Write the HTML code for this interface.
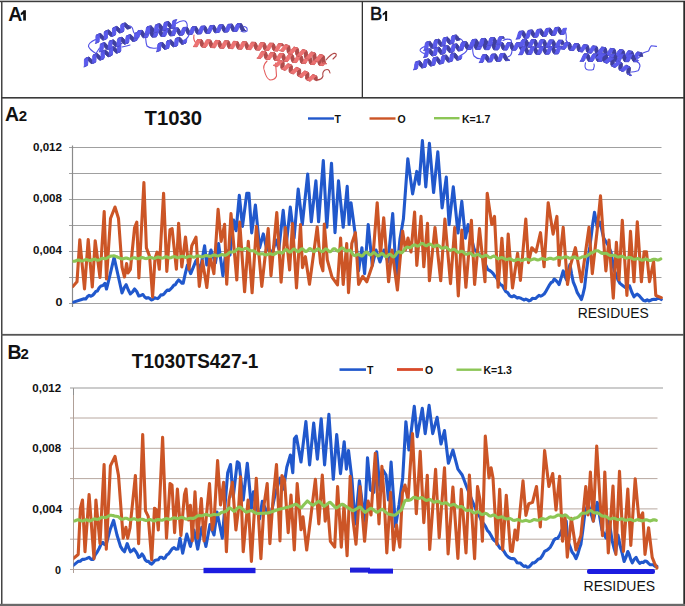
<!DOCTYPE html>
<html><head><meta charset="utf-8"><style>
html,body{margin:0;padding:0;background:#fff;width:685px;height:606px;overflow:hidden}
svg{display:block}
text{font-family:"Liberation Sans",sans-serif}
</style></head><body>
<svg width="685" height="606" viewBox="0 0 685 606">
<rect width="685" height="606" fill="#fff"/>
<g font-family="Liberation Sans, sans-serif">
<path d="M95.5 39.5 Q88 43 88.5 46.5 Q90 50 96 53.5 L99.5 48" stroke="#5050e6" stroke-width="1.1" fill="none" stroke-linecap="round" stroke-linejoin="round"/><path d="M128 25.5 Q132.5 26 133 30 Q133.5 34 137 34.5" stroke="#5050e6" stroke-width="1.1" fill="none" stroke-linecap="round" stroke-linejoin="round"/><path d="M122 47 Q127 46 130 45" stroke="#5050e6" stroke-width="1.1" fill="none" stroke-linecap="round" stroke-linejoin="round"/><path d="M146 31 Q145 40 147 46 Q150 49 156.6 48" stroke="#5050e6" stroke-width="1.1" fill="none" stroke-linecap="round" stroke-linejoin="round"/><path d="M176 23.5 Q181 20 185 21 Q188 23 187 28 Q187 31 189 32" stroke="#5050e6" stroke-width="1.1" fill="none" stroke-linecap="round" stroke-linejoin="round"/><path d="M185 40 Q188 38 189 35" stroke="#5050e6" stroke-width="1.1" fill="none" stroke-linecap="round" stroke-linejoin="round"/><path d="M244 26.5 Q248 27 247 31 Q244 33 241 31" stroke="#5050e6" stroke-width="1.1" fill="none" stroke-linecap="round" stroke-linejoin="round"/><path d="M85.0 58.6L85.7 58.6L89.0 57.2L88.3 57.2ZM85.7 58.6L86.6 59.2L90.0 57.8L89.0 57.2ZM86.6 59.2L87.8 60.3L91.1 58.9L90.0 57.8ZM87.8 60.3L89.0 61.5L92.3 60.1L91.1 58.9ZM89.0 61.5L90.2 62.7L93.5 61.3L92.3 60.1ZM90.2 62.7L91.2 63.4L94.5 62.1L93.5 61.3ZM91.2 63.4L92.0 63.7L95.3 62.3L94.5 62.1ZM93.2 55.1L93.8 55.0L97.2 53.6L96.5 53.7ZM93.8 55.0L94.7 55.6L98.1 54.2L97.2 53.6ZM94.7 55.6L95.9 56.6L99.2 55.2L98.1 54.2ZM95.9 56.6L97.1 57.8L100.4 56.4L99.2 55.2ZM97.1 57.8L98.3 59.0L101.6 57.6L100.4 56.4ZM98.3 59.0L99.3 59.8L102.6 58.5L101.6 57.6ZM99.3 59.8L100.1 60.2L103.4 58.8L102.6 58.5ZM101.4 51.7L102.0 51.5L105.3 50.1L104.7 50.3ZM102.0 51.5L102.9 51.9L106.2 50.5L105.3 50.1ZM102.9 51.9L103.9 52.9L107.2 51.5L106.2 50.5ZM103.9 52.9L105.1 54.1L108.4 52.7L107.2 51.5ZM105.1 54.1L106.3 55.3L109.6 53.9L108.4 52.7ZM106.3 55.3L107.4 56.2L110.7 54.8L109.6 53.9ZM107.4 56.2L108.3 56.7L111.6 55.3L110.7 54.8ZM108.3 56.7L108.9 56.5L112.2 55.1L111.6 55.3ZM110.2 48.0L111.0 48.3L114.3 46.9L113.5 46.6ZM111.0 48.3L112.0 49.2L115.3 47.8L114.3 46.9ZM112.0 49.2L113.2 50.3L116.5 48.9L115.3 47.8ZM113.2 50.3L114.4 51.6L117.7 50.2L116.5 48.9ZM114.4 51.6L115.5 52.6L118.8 51.2L117.7 50.2ZM115.5 52.6L116.4 53.1L119.8 51.7L118.8 51.2ZM116.4 53.1L117.1 53.1L120.4 51.7L119.8 51.7ZM118.3 44.5L119.1 44.7L122.4 43.3L121.6 43.1Z" fill="#40409e" stroke="#40409e" stroke-width="0.9"/>
<path d="M83.8 67.1L84.2 66.5L87.5 65.1L87.1 65.7ZM92.0 63.7L92.5 63.2L95.8 61.8L95.3 62.3ZM100.1 60.2L100.7 59.8L104.0 58.4L103.4 58.8ZM109.6 48.4L110.2 48.0L113.5 46.6L112.9 47.0ZM117.8 45.0L118.3 44.5L121.6 43.1L121.2 43.6Z" fill="#4f4fca" stroke="#4f4fca" stroke-width="0.9"/>
<path d="M84.6 59.2L85.0 58.6L88.3 57.2L87.9 57.8ZM92.8 55.9L93.2 55.1L96.5 53.7L96.1 54.5ZM100.7 59.8L101.0 58.9L104.3 57.5L104.0 58.4ZM101.1 52.6L101.4 51.7L104.7 50.3L104.4 51.2ZM108.9 56.5L109.2 55.6L112.5 54.2L112.2 55.1ZM109.3 49.4L109.6 48.4L112.9 47.0L112.7 48.0ZM117.1 53.1L117.5 52.3L120.8 50.9L120.4 51.7Z" fill="#5252d5" stroke="#5252d5" stroke-width="0.9"/>
<path d="M84.2 66.5L84.4 65.4L87.7 64.0L87.5 65.1ZM84.4 60.4L84.6 59.2L87.9 57.8L87.7 59.0ZM92.5 63.2L92.7 62.1L96.0 60.7L95.8 61.8ZM92.7 57.2L92.8 55.9L96.1 54.5L96.0 55.8ZM101.0 54.0L101.1 52.6L104.4 51.2L104.3 52.6ZM109.2 55.6L109.3 54.2L112.6 52.8L112.5 54.2ZM117.5 52.3L117.6 51.0L120.9 49.6L120.8 50.9ZM117.6 46.1L117.8 45.0L121.2 43.6L120.9 44.7Z" fill="#5656e1" stroke="#5656e1" stroke-width="0.9"/>
<path d="M84.4 65.4L84.4 63.8L87.8 62.4L87.7 64.0ZM84.4 63.8L84.4 62.0L87.7 60.6L87.8 62.4ZM84.4 62.0L84.4 60.4L87.7 59.0L87.7 60.6ZM92.7 62.1L92.7 60.6L96.1 59.2L96.0 60.7ZM92.7 60.6L92.7 58.9L96.0 57.5L96.1 59.2ZM92.7 58.9L92.7 57.2L96.0 55.8L96.0 57.5ZM101.0 58.9L101.0 57.4L104.4 56.0L104.3 57.5ZM101.0 57.4L101.0 55.7L104.3 54.3L104.4 56.0ZM101.0 55.7L101.0 54.0L104.3 52.6L104.3 54.3ZM109.3 54.2L109.3 52.5L112.6 51.1L112.6 52.8ZM109.3 52.5L109.3 50.8L112.6 49.4L112.6 51.1ZM109.3 50.8L109.3 49.4L112.7 48.0L112.6 49.4ZM117.6 51.0L117.6 49.4L120.9 48.0L120.9 49.6ZM117.6 49.4L117.6 47.6L120.9 46.2L120.9 48.0ZM117.6 47.6L117.6 46.1L120.9 44.7L120.9 46.2Z" fill="#5a5aec" stroke="#5a5aec" stroke-width="0.9"/><path d="M96.4 35.1L97.1 35.1L100.4 33.6L99.8 33.6ZM97.1 35.1L98.1 35.7L101.4 34.2L100.4 33.6ZM98.1 35.7L99.2 36.7L102.5 35.3L101.4 34.2ZM99.2 36.7L100.4 37.9L103.7 36.5L102.5 35.3ZM100.4 37.9L101.6 39.1L104.9 37.7L103.7 36.5ZM101.6 39.1L102.6 39.9L105.9 38.4L104.9 37.7ZM102.6 39.9L103.4 40.1L106.7 38.7L105.9 38.4ZM104.6 31.6L105.2 31.4L108.5 30.0L107.9 30.2ZM105.2 31.4L106.1 31.9L109.4 30.5L108.5 30.0ZM106.1 31.9L107.2 32.9L110.5 31.4L109.4 30.5ZM107.2 32.9L108.4 34.1L111.7 32.7L110.5 31.4ZM108.4 34.1L109.6 35.3L112.9 33.8L111.7 32.7ZM109.6 35.3L110.7 36.2L114.0 34.7L112.9 33.8ZM110.7 36.2L111.5 36.5L114.8 35.1L114.0 34.7ZM113.3 27.9L114.1 28.2L117.4 26.8L116.6 26.4ZM114.1 28.2L115.2 29.0L118.5 27.6L117.4 26.8ZM115.2 29.0L116.4 30.2L119.7 28.8L118.5 27.6ZM116.4 30.2L117.6 31.4L120.9 30.0L119.7 28.8ZM117.6 31.4L118.7 32.4L122.0 31.0L120.9 30.0ZM118.7 32.4L119.6 32.9L122.9 31.5L122.0 31.0ZM119.6 32.9L120.3 32.8L123.6 31.4L122.9 31.5ZM121.4 24.3L122.2 24.5L125.5 23.1L124.7 22.9ZM122.2 24.5L123.2 25.2L126.5 23.8L125.5 23.1ZM123.2 25.2L124.3 26.4L127.6 24.9L126.5 23.8ZM124.3 26.4L125.6 27.6L128.9 26.2L127.6 24.9ZM125.6 27.6L126.7 28.7L130.0 27.2L128.9 26.2ZM126.7 28.7L127.7 29.3L131.0 27.9L130.0 27.2Z" fill="#40409e" stroke="#40409e" stroke-width="0.9"/>
<path d="M95.3 43.6L95.8 43.0L99.1 41.6L98.6 42.2ZM103.4 40.1L103.9 39.7L107.2 38.2L106.7 38.7ZM111.5 36.5L112.1 36.3L115.4 34.8L114.8 35.1ZM112.7 28.2L113.3 27.9L116.6 26.4L116.1 26.8ZM120.9 24.8L121.4 24.3L124.7 22.9L124.2 23.4Z" fill="#4f4fca" stroke="#4f4fca" stroke-width="0.9"/>
<path d="M96.0 35.7L96.4 35.1L99.8 33.6L99.3 34.3ZM104.2 32.4L104.6 31.6L107.9 30.2L107.6 31.0ZM112.1 36.3L112.4 35.4L115.7 34.0L115.4 34.8ZM112.5 29.1L112.7 28.2L116.1 26.8L115.8 27.7ZM120.3 32.8L120.6 32.1L123.9 30.7L123.6 31.4Z" fill="#5252d5" stroke="#5252d5" stroke-width="0.9"/>
<path d="M95.8 43.0L95.9 41.9L99.2 40.4L99.1 41.6ZM95.9 36.9L96.0 35.7L99.3 34.3L99.2 35.5ZM103.9 39.7L104.2 38.6L107.5 37.2L107.2 38.2ZM104.1 33.8L104.2 32.4L107.6 31.0L107.4 32.3ZM120.6 32.1L120.8 30.8L124.1 29.4L123.9 30.7ZM120.7 25.9L120.9 24.8L124.2 23.4L124.0 24.5Z" fill="#5656e1" stroke="#5656e1" stroke-width="0.9"/>
<path d="M95.9 41.9L95.9 40.3L99.3 38.9L99.2 40.4ZM95.9 40.3L95.9 38.6L99.2 37.1L99.3 38.9ZM95.9 38.6L95.9 36.9L99.2 35.5L99.2 37.1ZM104.2 38.6L104.2 37.1L107.5 35.7L107.5 37.2ZM104.2 37.1L104.2 35.4L107.5 34.0L107.5 35.7ZM104.2 35.4L104.1 33.8L107.4 32.3L107.5 34.0ZM112.4 35.4L112.5 34.0L115.8 32.6L115.7 34.0ZM112.5 34.0L112.4 32.3L115.8 30.9L115.8 32.6ZM112.4 32.3L112.4 30.6L115.7 29.1L115.8 30.9ZM112.4 30.6L112.5 29.1L115.8 27.7L115.7 29.1ZM120.8 30.8L120.7 29.1L124.0 27.7L124.1 29.4ZM120.7 29.1L120.7 27.4L124.0 26.0L124.0 27.7ZM120.7 27.4L120.7 25.9L124.0 24.5L124.0 26.0Z" fill="#5a5aec" stroke="#5a5aec" stroke-width="0.9"/><path d="M100.9 43.7L101.6 43.8L105.0 42.7L104.4 42.6ZM101.6 43.8L102.5 44.5L105.9 43.4L105.0 42.7ZM102.5 44.5L103.5 45.6L106.9 44.6L105.9 43.4ZM103.5 45.6L104.6 47.0L108.0 45.9L106.9 44.6ZM104.6 47.0L105.6 48.3L109.1 47.2L108.0 45.9ZM105.6 48.3L106.6 49.1L110.0 48.1L109.1 47.2ZM106.6 49.1L107.3 49.4L110.8 48.4L110.0 48.1ZM109.4 41.1L110.0 41.0L113.5 40.0L112.8 40.1ZM110.0 41.0L110.9 41.6L114.3 40.6L113.5 40.0ZM110.9 41.6L111.9 42.7L115.3 41.6L114.3 40.6ZM111.9 42.7L112.9 44.0L116.4 43.0L115.3 41.6ZM112.9 44.0L114.0 45.3L117.4 44.3L116.4 43.0ZM114.0 45.3L115.0 46.3L118.4 45.3L117.4 44.3ZM115.0 46.3L115.8 46.8L119.2 45.7L118.4 45.3ZM118.5 38.3L119.3 38.8L122.7 37.7L121.9 37.3ZM119.3 38.8L120.2 39.8L123.7 38.7L122.7 37.7ZM120.2 39.8L121.3 41.1L124.7 40.0L123.7 38.7ZM121.3 41.1L122.4 42.4L125.8 41.3L124.7 40.0ZM122.4 42.4L123.4 43.5L126.8 42.4L125.8 41.3ZM123.4 43.5L124.2 44.1L127.7 43.0L126.8 42.4ZM124.2 44.1L124.9 44.0L128.3 42.9L127.7 43.0ZM126.9 35.7L127.7 36.0L131.1 34.9L130.4 34.6ZM127.7 36.0L128.6 36.8L132.0 35.8L131.1 34.9ZM128.6 36.8L129.6 38.1L133.1 37.0L132.0 35.8ZM129.6 38.1L130.7 39.5L134.2 38.4L133.1 37.0ZM130.7 39.5L131.8 40.6L135.2 39.6L134.2 38.4ZM131.8 40.6L132.6 41.3L136.1 40.3L135.2 39.6ZM132.6 41.3L133.3 41.4L136.8 40.4L136.1 40.3ZM135.4 33.1L136.1 33.2L139.5 32.1L138.8 32.0ZM136.1 33.2L137.0 33.9L140.4 32.9L139.5 32.1ZM137.0 33.9L138.0 35.1L141.4 34.1L140.4 32.9Z" fill="#40409e" stroke="#40409e" stroke-width="0.9"/>
<path d="M98.9 52.1L99.4 51.5L102.8 50.5L102.3 51.0ZM107.3 49.4L107.9 49.1L111.3 48.0L110.8 48.4ZM115.8 46.8L116.4 46.6L119.8 45.5L119.2 45.7ZM117.9 38.6L118.5 38.3L121.9 37.3L121.3 37.5ZM126.4 36.1L126.9 35.7L130.4 34.6L129.8 35.0ZM134.9 33.6L135.4 33.1L138.8 32.0L138.3 32.5Z" fill="#4f4fca" stroke="#4f4fca" stroke-width="0.9"/>
<path d="M100.4 44.3L100.9 43.7L104.4 42.6L103.9 43.2ZM109.0 41.9L109.4 41.1L112.8 40.1L112.4 40.8ZM116.4 46.6L116.8 45.7L120.2 44.6L119.8 45.5ZM117.5 39.5L117.9 38.6L121.3 37.5L120.9 38.4ZM124.9 44.0L125.3 43.3L128.7 42.2L128.3 42.9ZM133.3 41.4L133.8 40.8L137.2 39.8L136.8 40.4Z" fill="#5252d5" stroke="#5252d5" stroke-width="0.9"/>
<path d="M99.4 51.5L99.7 50.4L103.1 49.3L102.8 50.5ZM100.2 45.5L100.4 44.3L103.9 43.2L103.6 44.4ZM107.9 49.1L108.2 48.1L111.7 47.0L111.3 48.0ZM108.7 43.2L109.0 41.9L112.4 40.8L112.1 42.1ZM125.3 43.3L125.5 42.0L129.0 40.9L128.7 42.2ZM126.0 37.1L126.4 36.1L129.8 35.0L129.5 36.0ZM133.8 40.8L134.1 39.7L137.5 38.6L137.2 39.8ZM134.6 34.7L134.9 33.6L138.3 32.5L138.0 33.7Z" fill="#5656e1" stroke="#5656e1" stroke-width="0.9"/>
<path d="M99.7 50.4L99.9 48.8L103.3 47.8L103.1 49.3ZM99.9 48.8L100.0 47.1L103.4 46.0L103.3 47.8ZM100.0 47.1L100.2 45.5L103.6 44.4L103.4 46.0ZM108.2 48.1L108.4 46.6L111.9 45.5L111.7 47.0ZM108.4 46.6L108.6 44.8L112.0 43.8L111.9 45.5ZM108.6 44.8L108.7 43.2L112.1 42.1L112.0 43.8ZM116.8 45.7L117.0 44.3L120.4 43.2L120.2 44.6ZM117.0 44.3L117.1 42.6L120.6 41.5L120.4 43.2ZM117.1 42.6L117.3 40.9L120.7 39.8L120.6 41.5ZM117.3 40.9L117.5 39.5L120.9 38.4L120.7 39.8ZM125.5 42.0L125.7 40.3L129.1 39.3L129.0 40.9ZM125.7 40.3L125.8 38.6L129.3 37.5L129.1 39.3ZM125.8 38.6L126.0 37.1L129.5 36.0L129.3 37.5ZM134.1 39.7L134.3 38.1L137.7 37.0L137.5 38.6ZM134.3 38.1L134.4 36.3L137.8 35.3L137.7 37.0ZM134.4 36.3L134.6 34.7L138.0 33.7L137.8 35.3Z" fill="#5a5aec" stroke="#5a5aec" stroke-width="0.9"/><path d="M158.5 43.5L159.2 43.6L162.6 42.6L161.9 42.5ZM159.2 43.6L160.1 44.3L163.5 43.3L162.6 42.6ZM160.1 44.3L161.1 45.5L164.5 44.5L163.5 43.3ZM161.1 45.5L162.1 46.9L165.6 45.9L164.5 44.5ZM162.1 46.9L163.2 48.2L166.6 47.2L165.6 45.9ZM163.2 48.2L164.1 49.1L167.5 48.0L166.6 47.2ZM164.1 49.1L164.8 49.3L168.3 48.3L167.5 48.0ZM167.0 41.0L167.7 41.0L171.1 40.0L170.5 40.0ZM167.7 41.0L168.5 41.6L172.0 40.6L171.1 40.0ZM168.5 41.6L169.5 42.7L173.0 41.7L172.0 40.6ZM169.5 42.7L170.6 44.1L174.0 43.1L173.0 41.7ZM170.6 44.1L171.6 45.4L175.1 44.4L174.0 43.1ZM171.6 45.4L172.6 46.4L176.0 45.4L175.1 44.4ZM172.6 46.4L173.3 46.8L176.8 45.8L176.0 45.4ZM175.6 38.6L176.2 38.4L179.6 37.4L179.0 37.6ZM176.2 38.4L177.0 38.9L180.4 37.9L179.6 37.4ZM177.0 38.9L177.9 40.0L181.4 39.0L180.4 37.9ZM177.9 40.0L179.0 41.3L182.5 40.3L181.4 39.0ZM179.0 41.3L180.1 42.7L183.5 41.7L182.5 40.3ZM180.1 42.7L181.0 43.7L184.5 42.7L183.5 41.7ZM181.0 43.7L181.8 44.3L185.3 43.2L184.5 42.7ZM181.8 44.3L182.5 44.1L185.9 43.1L185.3 43.2Z" fill="#40409e" stroke="#40409e" stroke-width="0.9"/>
<path d="M156.3 51.9L156.8 51.3L160.3 50.3L159.8 50.8ZM164.8 49.3L165.4 49.0L168.8 47.9L168.3 48.3ZM173.3 46.8L173.9 46.6L177.4 45.5L176.8 45.8Z" fill="#4f4fca" stroke="#4f4fca" stroke-width="0.9"/>
<path d="M158.0 44.1L158.5 43.5L161.9 42.5L161.5 43.1ZM166.6 41.7L167.0 41.0L170.5 40.0L170.0 40.7ZM173.9 46.6L174.3 45.6L177.8 44.6L177.4 45.5ZM175.1 39.4L175.6 38.6L179.0 37.6L178.6 38.4ZM182.5 44.1L182.9 43.3L186.3 42.3L185.9 43.1Z" fill="#5252d5" stroke="#5252d5" stroke-width="0.9"/>
<path d="M156.8 51.3L157.1 50.2L160.6 49.2L160.3 50.3ZM157.7 45.3L158.0 44.1L161.5 43.1L161.1 44.3ZM165.4 49.0L165.7 47.9L169.2 46.9L168.8 47.9ZM166.3 43.0L166.6 41.7L170.0 40.7L169.7 42.0ZM174.9 40.8L175.1 39.4L178.6 38.4L178.3 39.8ZM182.9 43.3L183.2 42.0L186.6 41.0L186.3 42.3Z" fill="#5656e1" stroke="#5656e1" stroke-width="0.9"/>
<path d="M157.1 50.2L157.3 48.6L160.8 47.6L160.6 49.2ZM157.3 48.6L157.5 46.9L161.0 45.9L160.8 47.6ZM157.5 46.9L157.7 45.3L161.1 44.3L161.0 45.9ZM165.7 47.9L166.0 46.4L169.4 45.4L169.2 46.9ZM166.0 46.4L166.1 44.7L169.6 43.7L169.4 45.4ZM166.1 44.7L166.3 43.0L169.7 42.0L169.6 43.7ZM174.3 45.6L174.6 44.2L178.0 43.2L177.8 44.6ZM174.6 44.2L174.7 42.5L178.2 41.5L178.0 43.2ZM174.7 42.5L174.9 40.8L178.3 39.8L178.2 41.5ZM183.2 42.0L183.3 40.3L186.8 39.3L186.6 41.0Z" fill="#5a5aec" stroke="#5a5aec" stroke-width="0.9"/><path d="M138.3 30.6L139.0 30.8L142.5 30.6L141.9 30.4ZM139.0 30.8L139.6 31.6L143.2 31.4L142.5 30.6ZM139.6 31.6L140.4 32.9L144.0 32.7L143.2 31.4ZM140.4 32.9L141.1 34.5L144.7 34.2L144.0 32.7ZM141.1 34.5L141.8 36.0L145.4 35.7L144.7 34.2ZM141.8 36.0L142.5 37.1L146.1 36.9L145.4 35.7ZM142.5 37.1L143.2 37.7L146.8 37.4L146.1 36.9ZM147.7 30.0L148.4 30.6L151.9 30.4L151.3 29.8ZM148.4 30.6L149.1 31.8L152.7 31.5L151.9 30.4ZM149.1 31.8L149.8 33.3L153.4 33.0L152.7 31.5ZM149.8 33.3L150.5 34.8L154.1 34.6L153.4 33.0ZM150.5 34.8L151.2 36.1L154.8 35.9L154.1 34.6ZM151.2 36.1L151.9 36.9L155.5 36.6L154.8 35.9ZM151.9 36.9L152.6 37.0L156.2 36.8L155.5 36.6ZM156.4 29.4L157.1 29.7L160.7 29.5L160.0 29.1ZM157.1 29.7L157.8 30.7L161.4 30.4L160.7 29.5ZM157.8 30.7L158.5 32.1L162.1 31.8L161.4 30.4ZM158.5 32.1L159.2 33.6L162.8 33.4L162.1 31.8ZM159.2 33.6L160.0 35.0L163.5 34.8L162.8 33.4ZM160.0 35.0L160.6 36.0L164.2 35.8L163.5 34.8ZM160.6 36.0L161.3 36.4L164.9 36.2L164.2 35.8ZM165.2 28.8L165.8 28.9L169.4 28.6L168.8 28.6ZM165.8 28.9L166.5 29.6L170.1 29.4L169.4 28.6ZM166.5 29.6L167.2 30.9L170.8 30.6L170.1 29.4ZM167.2 30.9L167.9 32.4L171.5 32.1L170.8 30.6ZM167.9 32.4L168.7 33.9L172.2 33.7L171.5 32.1ZM168.7 33.9L169.4 35.1L173.0 34.8L172.2 33.7ZM169.4 35.1L170.0 35.7L173.6 35.5L173.0 34.8ZM170.0 35.7L170.7 35.7L174.3 35.5L173.6 35.5ZM174.5 28.1L175.2 28.6L178.8 28.4L178.1 27.9ZM175.2 28.6L175.9 29.7L179.5 29.5L178.8 28.4ZM175.9 29.7L176.6 31.2L180.2 30.9L179.5 29.5ZM176.6 31.2L177.4 32.7L180.9 32.5L180.2 30.9ZM177.4 32.7L178.1 34.1L181.7 33.8L180.9 32.5ZM178.1 34.1L178.8 34.9L182.4 34.7L181.7 33.8ZM178.8 34.9L179.4 35.2L183.0 34.9L182.4 34.7ZM183.3 27.5L183.9 27.7L187.5 27.5L186.9 27.3ZM183.9 27.7L184.6 28.6L188.2 28.4L187.5 27.5ZM184.6 28.6L185.3 30.0L188.9 29.7L188.2 28.4ZM185.3 30.0L186.1 31.5L189.6 31.3L188.9 29.7ZM186.1 31.5L186.8 33.0L190.4 32.7L189.6 31.3ZM186.8 33.0L187.5 34.1L191.1 33.8L190.4 32.7ZM187.5 34.1L188.1 34.6L191.7 34.3L191.1 33.8ZM192.0 27.0L192.6 27.0L196.2 26.7L195.6 26.7ZM192.6 27.0L193.3 27.6L196.9 27.3L196.2 26.7ZM193.3 27.6L194.0 28.8L197.6 28.5L196.9 27.3ZM194.0 28.8L194.8 30.3L198.3 30.0L197.6 28.5ZM194.8 30.3L195.5 31.8L199.1 31.6L198.3 30.0ZM195.5 31.8L196.2 33.1L199.8 32.8L199.1 31.6ZM196.2 33.1L196.9 33.8L200.5 33.6L199.8 32.8ZM196.9 33.8L197.5 33.9L201.1 33.7L200.5 33.6ZM201.4 26.3L202.0 26.7L205.6 26.4L205.0 26.0ZM202.0 26.7L202.7 27.7L206.3 27.4L205.6 26.4ZM202.7 27.7L203.4 29.1L207.0 28.8L206.3 27.4ZM203.4 29.1L204.2 30.6L207.8 30.4L207.0 28.8ZM204.2 30.6L204.9 32.0L208.5 31.8L207.8 30.4ZM204.9 32.0L205.6 33.0L209.2 32.7L208.5 31.8ZM205.6 33.0L206.3 33.3L209.8 33.1L209.2 32.7ZM210.1 25.7L210.7 25.8L214.3 25.5L213.7 25.4ZM210.7 25.8L211.4 26.6L215.0 26.3L214.3 25.5ZM211.4 26.6L212.1 27.9L215.7 27.6L215.0 26.3ZM212.1 27.9L212.9 29.4L216.5 29.2L215.7 27.6ZM212.9 29.4L213.6 30.9L217.2 30.7L216.5 29.2ZM213.6 30.9L214.3 32.1L217.9 31.8L217.2 30.7ZM214.3 32.1L215.0 32.7L218.6 32.4L217.9 31.8ZM219.5 25.0L220.1 25.6L223.7 25.3L223.1 24.8ZM220.1 25.6L220.8 26.7L224.4 26.5L223.7 25.3ZM220.8 26.7L221.6 28.2L225.2 27.9L224.4 26.5ZM221.6 28.2L222.3 29.7L225.9 29.5L225.2 27.9ZM222.3 29.7L223.0 31.1L226.6 30.8L225.9 29.5ZM223.0 31.1L223.7 31.9L227.3 31.6L226.6 30.8ZM223.7 31.9L224.4 32.1L227.9 31.8L227.3 31.6ZM228.2 24.4L228.9 24.7L232.5 24.4L231.8 24.1ZM228.9 24.7L229.6 25.6L233.1 25.4L232.5 24.4ZM229.6 25.6L230.3 27.0L233.9 26.7L233.1 25.4ZM230.3 27.0L231.0 28.5L234.6 28.3L233.9 26.7ZM231.0 28.5L231.7 30.0L235.3 29.7L234.6 28.3ZM231.7 30.0L232.4 31.0L236.0 30.8L235.3 29.7ZM232.4 31.0L233.1 31.5L236.7 31.2L236.0 30.8ZM237.0 23.8L237.6 23.9L241.2 23.6L240.5 23.6ZM237.6 23.9L238.3 24.6L241.9 24.3L241.2 23.6ZM238.3 24.6L239.0 25.8L242.6 25.5L241.9 24.3ZM239.0 25.8L239.7 27.3L243.3 27.1L242.6 25.5ZM239.7 27.3L240.4 28.8L244.0 28.6L243.3 27.1ZM240.4 28.8L241.2 30.1L244.7 29.8L244.0 28.6ZM241.2 30.1L241.8 30.7L245.4 30.5L244.7 29.8ZM241.8 30.7L242.5 30.8L246.0 30.5L245.4 30.5Z" fill="#40409e" stroke="#40409e" stroke-width="0.9"/>
<path d="M134.5 38.3L135.1 37.9L138.7 37.7L138.1 38.1ZM143.2 37.7L143.8 37.5L147.4 37.3L146.8 37.4ZM147.1 30.1L147.7 30.0L151.3 29.8L150.7 29.9ZM155.8 29.7L156.4 29.4L160.0 29.1L159.4 29.5ZM161.3 36.4L161.9 36.2L165.5 35.9L164.9 36.2ZM173.9 28.3L174.5 28.1L178.1 27.9L177.5 28.1ZM179.4 35.2L180.0 34.7L183.6 34.5L183.0 34.9ZM188.1 34.6L188.8 34.4L192.4 34.1L191.7 34.3ZM200.8 26.6L201.4 26.3L205.0 26.0L204.4 26.3ZM206.3 33.3L206.9 33.0L210.4 32.7L209.8 33.1ZM215.0 32.7L215.6 32.6L219.2 32.3L218.6 32.4ZM218.9 25.2L219.5 25.0L223.1 24.8L222.5 24.9ZM227.6 24.8L228.2 24.4L231.8 24.1L231.2 24.5ZM233.1 31.5L233.7 31.2L237.3 31.0L236.7 31.2Z" fill="#4f4fca" stroke="#4f4fca" stroke-width="0.9"/>
<path d="M137.7 31.2L138.3 30.6L141.9 30.4L141.3 30.9ZM143.8 37.5L144.4 36.7L148.0 36.5L147.4 37.3ZM146.5 30.9L147.1 30.1L150.7 29.9L150.1 30.7ZM152.6 37.0L153.2 36.5L156.7 36.2L156.2 36.8ZM164.6 29.4L165.2 28.8L168.8 28.6L168.2 29.2ZM170.7 35.7L171.2 35.0L174.8 34.8L174.3 35.5ZM173.3 29.2L173.9 28.3L177.5 28.1L176.9 28.9ZM182.7 28.0L183.3 27.5L186.9 27.3L186.3 27.7ZM188.8 34.4L189.3 33.5L192.9 33.3L192.4 34.1ZM191.4 27.7L192.0 27.0L195.6 26.7L195.0 27.4ZM197.5 33.9L198.1 33.3L201.7 33.0L201.1 33.7ZM209.5 26.2L210.1 25.7L213.7 25.4L213.1 26.0ZM215.6 32.6L216.2 31.8L219.8 31.6L219.2 32.3ZM218.3 26.0L218.9 25.2L222.5 24.9L221.9 25.7ZM224.4 32.1L224.9 31.6L228.5 31.3L227.9 31.8ZM236.4 24.5L237.0 23.8L240.5 23.6L240.0 24.2Z" fill="#5252d5" stroke="#5252d5" stroke-width="0.9"/>
<path d="M135.1 37.9L135.6 36.9L139.2 36.7L138.7 37.7ZM137.2 32.3L137.7 31.2L141.3 30.9L140.8 32.0ZM153.2 36.5L153.7 35.3L157.3 35.1L156.7 36.2ZM155.3 30.7L155.8 29.7L159.4 29.5L158.9 30.5ZM161.9 36.2L162.5 35.2L166.1 35.0L165.5 35.9ZM164.0 30.6L164.6 29.4L168.2 29.2L167.6 30.4ZM171.2 35.0L171.8 33.8L175.4 33.5L174.8 34.8ZM180.0 34.7L180.6 33.7L184.1 33.4L183.6 34.5ZM182.1 29.0L182.7 28.0L186.3 27.7L185.7 28.8ZM190.9 29.0L191.4 27.7L195.0 27.4L194.5 28.7ZM198.1 33.3L198.6 32.1L202.2 31.9L201.7 33.0ZM200.2 27.5L200.8 26.6L204.4 26.3L203.8 27.2ZM206.9 33.0L207.4 32.0L211.0 31.7L210.4 32.7ZM209.0 27.4L209.5 26.2L213.1 26.0L212.6 27.1ZM224.9 31.6L225.5 30.4L229.1 30.2L228.5 31.3ZM227.1 25.8L227.6 24.8L231.2 24.5L230.6 25.6ZM233.7 31.2L234.3 30.3L237.9 30.0L237.3 31.0ZM235.8 25.7L236.4 24.5L240.0 24.2L239.4 25.5Z" fill="#5656e1" stroke="#5656e1" stroke-width="0.9"/>
<path d="M135.6 36.9L136.1 35.4L139.7 35.2L139.2 36.7ZM136.1 35.4L136.7 33.8L140.2 33.6L139.7 35.2ZM136.7 33.8L137.2 32.3L140.8 32.0L140.2 33.6ZM144.4 36.7L144.9 35.4L148.5 35.2L148.0 36.5ZM144.9 35.4L145.4 33.8L149.0 33.6L148.5 35.2ZM145.4 33.8L146.0 32.2L149.5 32.0L149.0 33.6ZM146.0 32.2L146.5 30.9L150.1 30.7L149.5 32.0ZM153.7 35.3L154.2 33.8L157.8 33.6L157.3 35.1ZM154.2 33.8L154.7 32.2L158.3 31.9L157.8 33.6ZM154.7 32.2L155.3 30.7L158.9 30.5L158.3 31.9ZM162.5 35.2L163.0 33.8L166.6 33.6L166.1 35.0ZM163.0 33.8L163.5 32.2L167.1 31.9L166.6 33.6ZM163.5 32.2L164.0 30.6L167.6 30.4L167.1 31.9ZM171.8 33.8L172.3 32.2L175.9 31.9L175.4 33.5ZM172.3 32.2L172.8 30.6L176.4 30.3L175.9 31.9ZM172.8 30.6L173.3 29.2L176.9 28.9L176.4 30.3ZM180.6 33.7L181.1 32.2L184.7 31.9L184.1 33.4ZM181.1 32.2L181.6 30.5L185.2 30.3L184.7 31.9ZM181.6 30.5L182.1 29.0L185.7 28.8L185.2 30.3ZM189.3 33.5L189.9 32.2L193.5 31.9L192.9 33.3ZM189.9 32.2L190.4 30.5L194.0 30.3L193.5 31.9ZM190.4 30.5L190.9 29.0L194.5 28.7L194.0 30.3ZM198.6 32.1L199.2 30.5L202.8 30.3L202.2 31.9ZM199.2 30.5L199.7 28.9L203.3 28.7L202.8 30.3ZM199.7 28.9L200.2 27.5L203.8 27.2L203.3 28.7ZM207.4 32.0L207.9 30.5L211.5 30.3L211.0 31.7ZM207.9 30.5L208.5 28.9L212.0 28.7L211.5 30.3ZM208.5 28.9L209.0 27.4L212.6 27.1L212.0 28.7ZM216.2 31.8L216.7 30.5L220.3 30.3L219.8 31.6ZM216.7 30.5L217.2 28.9L220.8 28.7L220.3 30.3ZM217.2 28.9L217.8 27.3L221.3 27.1L220.8 28.7ZM217.8 27.3L218.3 26.0L221.9 25.7L221.3 27.1ZM225.5 30.4L226.0 28.9L229.6 28.7L229.1 30.2ZM226.0 28.9L226.5 27.3L230.1 27.0L229.6 28.7ZM226.5 27.3L227.1 25.8L230.6 25.6L230.1 27.0ZM234.3 30.3L234.8 28.9L238.4 28.7L237.9 30.0ZM234.8 28.9L235.3 27.3L238.9 27.0L238.4 28.7ZM235.3 27.3L235.8 25.7L239.4 25.5L238.9 27.0Z" fill="#5a5aec" stroke="#5a5aec" stroke-width="0.9"/><path d="M147.1 26.8L147.8 26.9L151.3 26.0L150.6 25.9ZM147.8 26.9L148.6 27.6L152.1 26.7L151.3 26.0ZM148.6 27.6L149.6 28.8L153.1 27.9L152.1 26.7ZM149.6 28.8L150.6 30.2L154.1 29.3L153.1 27.9ZM150.6 30.2L151.5 31.5L155.0 30.6L154.1 29.3ZM151.5 31.5L152.4 32.5L155.9 31.6L155.0 30.6ZM152.4 32.5L153.2 32.9L156.7 32.0L155.9 31.6ZM155.7 24.8L156.3 24.6L159.8 23.8L159.2 23.9ZM156.3 24.6L157.1 25.1L160.6 24.3L159.8 23.8ZM157.1 25.1L158.0 26.2L161.5 25.3L160.6 24.3ZM158.0 26.2L159.0 27.6L162.5 26.7L161.5 25.3ZM159.0 27.6L160.0 29.0L163.5 28.1L162.5 26.7ZM160.0 29.0L160.9 30.1L164.4 29.2L163.5 28.1ZM160.9 30.1L161.7 30.7L165.2 29.8L164.4 29.2ZM161.7 30.7L162.3 30.6L165.8 29.8L165.2 29.8ZM164.8 22.4L165.6 22.8L169.1 21.9L168.3 21.6ZM165.6 22.8L166.4 23.7L169.9 22.8L169.1 21.9ZM166.4 23.7L167.4 25.0L170.9 24.1L169.9 22.8ZM167.4 25.0L168.4 26.4L171.9 25.5L170.9 24.1ZM168.4 26.4L169.3 27.6L172.8 26.7L171.9 25.5ZM169.3 27.6L170.2 28.4L173.7 27.5L172.8 26.7ZM170.2 28.4L170.9 28.6L174.4 27.7L173.7 27.5Z" fill="#40409e" stroke="#40409e" stroke-width="0.9"/>
<path d="M144.6 35.0L145.2 34.5L148.7 33.7L148.1 34.2ZM153.2 32.9L153.7 32.6L157.2 31.8L156.7 32.0ZM164.3 22.8L164.8 22.4L168.3 21.6L167.8 22.0ZM170.9 28.6L171.4 28.1L174.9 27.2L174.4 27.7Z" fill="#4f4fca" stroke="#4f4fca" stroke-width="0.9"/>
<path d="M146.6 27.4L147.1 26.8L150.6 25.9L150.1 26.5ZM153.7 32.6L154.2 31.7L157.7 30.8L157.2 31.8ZM155.3 25.6L155.7 24.8L159.2 23.9L158.7 24.7ZM162.3 30.6L162.8 29.9L166.3 29.1L165.8 29.8ZM172.9 20.9L173.4 20.3L176.9 19.5L176.4 20.1Z" fill="#5252d5" stroke="#5252d5" stroke-width="0.9"/>
<path d="M145.2 34.5L145.5 33.4L149.0 32.6L148.7 33.7ZM146.3 28.6L146.6 27.4L150.1 26.5L149.8 27.7ZM154.9 26.9L155.3 25.6L158.7 24.7L158.4 26.1ZM162.8 29.9L163.1 28.6L166.6 27.8L166.3 29.1ZM163.9 23.8L164.3 22.8L167.8 22.0L167.4 23.0ZM171.4 28.1L171.8 27.0L175.3 26.1L174.9 27.2ZM172.5 22.1L172.9 20.9L176.4 20.1L176.0 21.3Z" fill="#5656e1" stroke="#5656e1" stroke-width="0.9"/>
<path d="M145.5 33.4L145.8 31.9L149.3 31.0L149.0 32.6ZM145.8 31.9L146.0 30.2L149.5 29.3L149.3 31.0ZM146.0 30.2L146.3 28.6L149.8 27.7L149.5 29.3ZM154.2 31.7L154.5 30.3L158.0 29.4L157.7 30.8ZM154.5 30.3L154.7 28.6L158.2 27.7L158.0 29.4ZM154.7 28.6L154.9 26.9L158.4 26.1L158.2 27.7ZM163.1 28.6L163.4 27.0L166.9 26.1L166.6 27.8ZM163.4 27.0L163.6 25.3L167.1 24.4L166.9 26.1ZM163.6 25.3L163.9 23.8L167.4 23.0L167.1 24.4ZM171.8 27.0L172.0 25.4L175.5 24.5L175.3 26.1ZM172.0 25.4L172.3 23.7L175.7 22.8L175.5 24.5ZM172.3 23.7L172.5 22.1L176.0 21.3L175.7 22.8Z" fill="#5a5aec" stroke="#5a5aec" stroke-width="0.9"/><path d="M196 43 Q193 40 194 35" stroke="#e45a5a" stroke-width="1.1" fill="none" stroke-linecap="round" stroke-linejoin="round"/><path d="M267 61 Q262 66 264.5 71 Q266 78 270 80 Q275 80 276.5 76 Q276 68 275.5 63" stroke="#e45a5a" stroke-width="1.1" fill="none" stroke-linecap="round" stroke-linejoin="round"/><path d="M326 60 Q331 54 334 53.4 Q337 53 336 56 L333 59" stroke="#b04848" stroke-width="1.1" fill="none" stroke-linecap="round" stroke-linejoin="round"/><path d="M316 80 Q322 80 323 76 Q322 72 325 70 Q329 68 330 73" stroke="#b04848" stroke-width="1.1" fill="none" stroke-linecap="round" stroke-linejoin="round"/><path d="M197.8 39.5L198.4 39.7L202.0 39.9L201.4 39.6ZM198.4 39.7L199.0 40.6L202.6 40.8L202.0 39.9ZM199.0 40.6L199.5 42.0L203.1 42.2L202.6 40.8ZM199.5 42.0L200.1 43.6L203.7 43.8L203.1 42.2ZM200.1 43.6L200.6 45.2L204.2 45.4L203.7 43.8ZM200.6 45.2L201.2 46.4L204.8 46.6L204.2 45.4ZM201.2 46.4L201.8 47.0L205.4 47.2L204.8 46.6ZM207.2 40.0L207.8 40.7L211.3 40.9L210.8 40.2ZM207.8 40.7L208.3 41.9L211.9 42.1L211.3 40.9ZM208.3 41.9L208.9 43.5L212.5 43.7L211.9 42.1ZM208.9 43.5L209.4 45.1L213.0 45.3L212.5 43.7ZM209.4 45.1L210.0 46.5L213.6 46.7L213.0 45.3ZM210.0 46.5L210.5 47.3L214.1 47.5L213.6 46.7ZM210.5 47.3L211.2 47.5L214.8 47.7L214.1 47.5ZM215.9 40.4L216.5 40.8L220.1 41.0L219.5 40.6ZM216.5 40.8L217.1 41.9L220.7 42.1L220.1 41.0ZM217.1 41.9L217.7 43.4L221.2 43.6L220.7 42.1ZM217.7 43.4L218.2 45.0L221.8 45.2L221.2 43.6ZM218.2 45.0L218.7 46.5L222.3 46.7L221.8 45.2ZM218.7 46.5L219.3 47.6L222.9 47.7L222.3 46.7ZM219.3 47.6L219.9 48.0L223.5 48.2L222.9 47.7ZM224.7 40.9L225.3 41.1L228.9 41.2L228.3 41.0ZM225.3 41.1L225.9 41.9L229.5 42.1L228.9 41.2ZM225.9 41.9L226.4 43.3L230.0 43.5L229.5 42.1ZM226.4 43.3L227.0 44.9L230.6 45.1L230.0 43.5ZM227.0 44.9L227.5 46.5L231.1 46.7L230.6 45.1ZM227.5 46.5L228.1 47.7L231.7 47.9L231.1 46.7ZM228.1 47.7L228.7 48.4L232.3 48.6L231.7 47.9ZM234.1 41.4L234.7 42.0L238.3 42.2L237.7 41.6ZM234.7 42.0L235.2 43.2L238.8 43.4L238.3 42.2ZM235.2 43.2L235.8 44.8L239.4 45.0L238.8 43.4ZM235.8 44.8L236.3 46.4L239.9 46.6L239.4 45.0ZM236.3 46.4L236.9 47.8L240.5 48.0L239.9 46.6ZM236.9 47.8L237.5 48.7L241.1 48.9L240.5 48.0ZM237.5 48.7L238.1 48.9L241.7 49.1L241.1 48.9ZM242.8 41.8L243.4 42.2L247.0 42.3L246.4 42.0ZM243.4 42.2L244.0 43.2L247.6 43.4L247.0 42.3ZM244.0 43.2L244.6 44.6L248.2 44.8L247.6 43.4ZM244.6 44.6L245.1 46.3L248.7 46.5L248.2 44.8ZM245.1 46.3L245.7 47.8L249.3 48.0L248.7 46.5ZM245.7 47.8L246.2 48.9L249.8 49.1L249.3 48.0ZM246.2 48.9L246.8 49.4L250.4 49.6L249.8 49.1ZM251.6 42.3L252.2 42.4L255.8 42.6L255.2 42.4ZM252.2 42.4L252.8 43.2L256.4 43.4L255.8 42.6ZM252.8 43.2L253.4 44.6L257.0 44.7L256.4 43.4ZM253.4 44.6L253.9 46.2L257.5 46.3L257.0 44.7ZM253.9 46.2L254.5 47.7L258.0 47.9L257.5 46.3ZM254.5 47.7L255.0 49.0L258.6 49.2L258.0 47.9ZM255.0 49.0L255.6 49.7L259.2 49.9L258.6 49.2ZM255.6 49.7L256.2 49.8L259.8 50.0L259.2 49.9ZM261.0 42.7L261.6 43.3L265.2 43.5L264.6 42.9ZM261.6 43.3L262.2 44.5L265.7 44.7L265.2 43.5ZM262.2 44.5L262.7 46.0L266.3 46.2L265.7 44.7ZM262.7 46.0L263.2 47.7L266.8 47.8L266.3 46.2ZM263.2 47.7L263.8 49.1L267.4 49.3L266.8 47.8ZM263.8 49.1L264.4 50.0L268.0 50.2L267.4 49.3ZM264.4 50.0L265.0 50.3L268.6 50.5L268.0 50.2ZM269.8 43.2L270.4 43.5L274.0 43.7L273.3 43.3ZM270.4 43.5L270.9 44.5L274.5 44.7L274.0 43.7ZM270.9 44.5L271.5 45.9L275.1 46.1L274.5 44.7ZM271.5 45.9L272.0 47.5L275.6 47.7L275.1 46.1ZM272.0 47.5L272.6 49.1L276.2 49.3L275.6 47.7ZM272.6 49.1L273.2 50.2L276.7 50.4L276.2 49.3ZM273.2 50.2L273.8 50.8L277.3 50.9L276.7 50.4ZM278.5 43.7L279.1 43.8L282.7 44.0L282.1 43.9ZM279.1 43.8L279.7 44.5L283.3 44.7L282.7 44.0ZM279.7 44.5L280.3 45.8L283.9 46.0L283.3 44.7Z" fill="#b04c4c" stroke="#b04c4c" stroke-width="0.9"/>
<path d="M193.0 46.6L193.7 46.3L197.3 46.5L196.6 46.8ZM201.8 47.0L202.4 46.9L206.0 47.1L205.4 47.2ZM206.5 40.0L207.2 40.0L210.8 40.2L210.1 40.2ZM215.3 40.6L215.9 40.4L219.5 40.6L218.9 40.8ZM219.9 48.0L220.6 47.7L224.2 47.9L223.5 48.2ZM228.7 48.4L229.3 48.4L232.9 48.6L232.3 48.6ZM233.4 41.4L234.1 41.4L237.7 41.6L237.0 41.6ZM242.2 42.1L242.8 41.8L246.4 42.0L245.8 42.3ZM246.8 49.4L247.5 49.2L251.1 49.4L250.4 49.6ZM260.4 42.8L261.0 42.7L264.6 42.9L264.0 43.0ZM269.1 43.5L269.8 43.2L273.3 43.3L272.7 43.7ZM273.8 50.8L274.4 50.6L278.0 50.8L277.3 50.9Z" fill="#d26262" stroke="#d26262" stroke-width="0.9"/>
<path d="M197.1 39.9L197.8 39.5L201.4 39.6L200.7 40.1ZM202.4 46.9L203.1 46.2L206.7 46.4L206.0 47.1ZM205.9 40.7L206.5 40.0L210.1 40.2L209.5 40.9ZM211.2 47.5L211.8 47.0L215.4 47.2L214.8 47.7ZM224.0 41.3L224.7 40.9L228.3 41.0L227.6 41.5ZM229.3 48.4L230.0 47.7L233.6 47.9L232.9 48.6ZM232.8 42.1L233.4 41.4L237.0 41.6L236.4 42.3ZM238.1 48.9L238.7 48.5L242.3 48.7L241.7 49.1ZM250.9 42.8L251.6 42.3L255.2 42.4L254.5 43.0ZM256.2 49.8L256.9 49.2L260.5 49.3L259.8 50.0ZM259.7 43.6L260.4 42.8L264.0 43.0L263.3 43.8ZM265.0 50.3L265.6 49.9L269.2 50.1L268.6 50.5ZM277.9 44.3L278.5 43.7L282.1 43.9L281.4 44.5Z" fill="#db6868" stroke="#db6868" stroke-width="0.9"/>
<path d="M193.7 46.3L194.3 45.3L197.9 45.5L197.3 46.5ZM196.4 40.9L197.1 39.9L200.7 40.1L200.0 41.1ZM211.8 47.0L212.5 45.9L216.1 46.1L215.4 47.2ZM214.6 41.5L215.3 40.6L218.9 40.8L218.2 41.7ZM220.6 47.7L221.2 46.8L224.8 47.0L224.2 47.9ZM223.4 42.4L224.0 41.3L227.6 41.5L226.9 42.6ZM238.7 48.5L239.4 47.4L243.0 47.6L242.3 48.7ZM241.5 43.0L242.2 42.1L245.8 42.3L245.1 43.2ZM247.5 49.2L248.1 48.3L251.7 48.5L251.1 49.4ZM250.3 43.9L250.9 42.8L254.5 43.0L253.9 44.1ZM256.9 49.2L257.6 48.0L261.2 48.2L260.5 49.3ZM265.6 49.9L266.3 48.9L269.9 49.1L269.2 50.1ZM268.4 44.5L269.1 43.5L272.7 43.7L272.0 44.7ZM274.4 50.6L275.1 49.8L278.7 50.0L278.0 50.8ZM277.2 45.4L277.9 44.3L281.4 44.5L280.8 45.6Z" fill="#e46d6d" stroke="#e46d6d" stroke-width="0.9"/>
<path d="M194.3 45.3L195.0 43.9L198.6 44.1L197.9 45.5ZM195.0 43.9L195.7 42.4L199.3 42.6L198.6 44.1ZM195.7 42.4L196.4 40.9L200.0 41.1L199.3 42.6ZM203.1 46.2L203.8 44.9L207.4 45.1L206.7 46.4ZM203.8 44.9L204.5 43.4L208.1 43.6L207.4 45.1ZM204.5 43.4L205.2 41.9L208.8 42.1L208.1 43.6ZM205.2 41.9L205.9 40.7L209.5 40.9L208.8 42.1ZM212.5 45.9L213.2 44.4L216.8 44.6L216.1 46.1ZM213.2 44.4L213.9 42.9L217.5 43.1L216.8 44.6ZM213.9 42.9L214.6 41.5L218.2 41.7L217.5 43.1ZM221.2 46.8L221.9 45.5L225.5 45.7L224.8 47.0ZM221.9 45.5L222.6 43.9L226.2 44.1L225.5 45.7ZM222.6 43.9L223.4 42.4L226.9 42.6L226.2 44.1ZM230.0 47.7L230.7 46.5L234.3 46.6L233.6 47.9ZM230.7 46.5L231.4 44.9L235.0 45.1L234.3 46.6ZM231.4 44.9L232.1 43.4L235.7 43.6L235.0 45.1ZM232.1 43.4L232.8 42.1L236.4 42.3L235.7 43.6ZM239.4 47.4L240.1 46.0L243.7 46.1L243.0 47.6ZM240.1 46.0L240.8 44.4L244.4 44.6L243.7 46.1ZM240.8 44.4L241.5 43.0L245.1 43.2L244.4 44.6ZM248.1 48.3L248.8 47.0L252.4 47.2L251.7 48.5ZM248.8 47.0L249.6 45.4L253.1 45.6L252.4 47.2ZM249.6 45.4L250.3 43.9L253.9 44.1L253.1 45.6ZM257.6 48.0L258.3 46.5L261.9 46.6L261.2 48.2ZM258.3 46.5L259.0 44.9L262.6 45.1L261.9 46.6ZM259.0 44.9L259.7 43.6L263.3 43.8L262.6 45.1ZM266.3 48.9L267.0 47.5L270.6 47.7L269.9 49.1ZM267.0 47.5L267.7 45.9L271.3 46.1L270.6 47.7ZM267.7 45.9L268.4 44.5L272.0 44.7L271.3 46.1ZM275.1 49.8L275.8 48.5L279.3 48.7L278.7 50.0ZM275.8 48.5L276.5 46.9L280.1 47.1L279.3 48.7ZM276.5 46.9L277.2 45.4L280.8 45.6L280.1 47.1Z" fill="#ed7373" stroke="#ed7373" stroke-width="0.9"/><path d="M262.0 51.3L262.6 51.6L266.2 52.0L265.6 51.7ZM262.6 51.6L263.1 52.6L266.7 53.0L266.2 52.0ZM263.1 52.6L263.6 54.0L267.2 54.4L266.7 53.0ZM263.6 54.0L264.0 55.7L267.6 56.1L267.2 54.4ZM264.0 55.7L264.5 57.3L268.1 57.7L267.6 56.1ZM264.5 57.3L265.0 58.5L268.6 58.9L268.1 57.7ZM265.0 58.5L265.6 59.1L269.1 59.5L268.6 58.9ZM270.7 52.4L271.4 52.5L274.9 52.9L274.3 52.8ZM271.4 52.5L271.9 53.2L275.5 53.6L274.9 52.9ZM271.9 53.2L272.4 54.6L276.0 55.0L275.5 53.6ZM272.4 54.6L272.8 56.2L276.4 56.6L276.0 55.0ZM272.8 56.2L273.3 57.8L276.9 58.2L276.4 56.6ZM273.3 57.8L273.8 59.2L277.4 59.6L276.9 58.2ZM273.8 59.2L274.3 60.0L277.9 60.4L277.4 59.6ZM274.3 60.0L274.9 60.2L278.5 60.6L277.9 60.4ZM280.1 53.4L280.7 53.9L284.3 54.3L283.7 53.8ZM280.7 53.9L281.2 55.1L284.8 55.5L284.3 54.3ZM281.2 55.1L281.6 56.7L285.2 57.1L284.8 55.5ZM281.6 56.7L282.1 58.3L285.7 58.7L285.2 57.1ZM282.1 58.3L282.6 59.8L286.1 60.2L285.7 58.7ZM282.6 59.8L283.1 60.8L286.7 61.2L286.1 60.2ZM283.1 60.8L283.7 61.2L287.3 61.6L286.7 61.2ZM288.9 54.3L289.5 54.7L293.0 55.1L292.5 54.7ZM289.5 54.7L290.0 55.7L293.6 56.1L293.0 55.1ZM290.0 55.7L290.5 57.2L294.0 57.6L293.6 56.1ZM290.5 57.2L290.9 58.8L294.5 59.2L294.0 57.6ZM290.9 58.8L291.4 60.4L294.9 60.8L294.5 59.2ZM291.4 60.4L291.9 61.6L295.4 62.0L294.9 60.8ZM291.9 61.6L292.4 62.2L296.0 62.6L295.4 62.0ZM297.6 55.4L298.2 55.5L301.8 55.9L301.2 55.8ZM298.2 55.5L298.8 56.3L302.4 56.7L301.8 55.9ZM298.8 56.3L299.3 57.7L302.8 58.1L302.4 56.7ZM299.3 57.7L299.7 59.3L303.3 59.7L302.8 58.1ZM299.7 59.3L300.2 60.9L303.7 61.3L303.3 59.7ZM300.2 60.9L300.6 62.3L304.2 62.7L303.7 61.3ZM300.6 62.3L301.2 63.1L304.8 63.5L304.2 62.7ZM301.2 63.1L301.8 63.2L305.4 63.6L304.8 63.5ZM307.0 56.4L307.6 57.0L311.1 57.4L310.6 56.8ZM307.6 57.0L308.1 58.2L311.6 58.6L311.1 57.4ZM308.1 58.2L308.5 59.8L312.1 60.2L311.6 58.6ZM308.5 59.8L309.0 61.5L312.5 61.9L312.1 60.2ZM309.0 61.5L309.4 62.9L313.0 63.3L312.5 61.9ZM309.4 62.9L310.0 63.9L313.5 64.3L313.0 63.3ZM310.0 63.9L310.5 64.2L314.1 64.6L313.5 64.3ZM315.7 57.4L316.3 57.8L319.9 58.2L319.3 57.8ZM316.3 57.8L316.9 58.8L320.4 59.2L319.9 58.2ZM316.9 58.8L317.3 60.3L320.9 60.7L320.4 59.2ZM317.3 60.3L317.8 62.0L321.3 62.4L320.9 60.7ZM317.8 62.0L318.2 63.5L321.8 63.9L321.3 62.4ZM318.2 63.5L318.7 64.7L322.3 65.1L321.8 63.9ZM318.7 64.7L319.3 65.2L322.9 65.6L322.3 65.1Z" fill="#b04c4c" stroke="#b04c4c" stroke-width="0.9"/>
<path d="M256.8 58.2L257.5 57.9L261.0 58.3L260.4 58.6ZM265.6 59.1L266.2 59.1L269.8 59.5L269.1 59.5ZM279.5 53.5L280.1 53.4L283.7 53.8L283.1 53.9ZM283.7 61.2L284.3 60.9L287.9 61.3L287.3 61.6ZM288.2 54.7L288.9 54.3L292.5 54.7L291.8 55.1ZM292.4 62.2L293.1 62.0L296.6 62.4L296.0 62.6ZM306.4 56.5L307.0 56.4L310.6 56.8L309.9 56.9ZM315.1 57.6L315.7 57.4L319.3 57.8L318.7 58.0ZM319.3 65.2L320.0 65.0L323.5 65.4L322.9 65.6Z" fill="#d26262" stroke="#d26262" stroke-width="0.9"/>
<path d="M261.3 51.7L262.0 51.3L265.6 51.7L264.9 52.1ZM266.2 59.1L266.9 58.3L270.5 58.7L269.8 59.5ZM270.0 53.0L270.7 52.4L274.3 52.8L273.6 53.4ZM274.9 60.2L275.6 59.6L279.2 60.0L278.5 60.6ZM296.9 55.9L297.6 55.4L301.2 55.8L300.5 56.3ZM301.8 63.2L302.5 62.6L306.1 63.0L305.4 63.6ZM305.6 57.2L306.4 56.5L309.9 56.9L309.2 57.6ZM310.5 64.2L311.2 63.8L314.8 64.2L314.1 64.6Z" fill="#db6868" stroke="#db6868" stroke-width="0.9"/>
<path d="M257.5 57.9L258.2 57.0L261.8 57.4L261.0 58.3ZM260.6 52.7L261.3 51.7L264.9 52.1L264.2 53.1ZM269.3 54.1L270.0 53.0L273.6 53.4L272.9 54.5ZM275.6 59.6L276.4 58.5L280.0 58.9L279.2 60.0ZM278.8 54.3L279.5 53.5L283.1 53.9L282.3 54.7ZM284.3 60.9L285.1 59.9L288.7 60.3L287.9 61.3ZM287.5 55.6L288.2 54.7L291.8 55.1L291.0 56.0ZM293.1 62.0L293.8 61.3L297.4 61.7L296.6 62.4ZM296.2 57.0L296.9 55.9L300.5 56.3L299.7 57.4ZM302.5 62.6L303.3 61.4L306.8 61.8L306.1 63.0ZM311.2 63.8L312.0 62.8L315.5 63.2L314.8 64.2ZM314.3 58.6L315.1 57.6L318.7 58.0L317.9 59.0ZM320.0 65.0L320.7 64.2L324.3 64.6L323.5 65.4Z" fill="#e46d6d" stroke="#e46d6d" stroke-width="0.9"/>
<path d="M258.2 57.0L259.0 55.6L262.6 56.0L261.8 57.4ZM259.0 55.6L259.8 54.1L263.4 54.5L262.6 56.0ZM259.8 54.1L260.6 52.7L264.2 53.1L263.4 54.5ZM266.9 58.3L267.7 57.1L271.3 57.5L270.5 58.7ZM267.7 57.1L268.5 55.6L272.1 56.0L271.3 57.5ZM268.5 55.6L269.3 54.1L272.9 54.5L272.1 56.0ZM276.4 58.5L277.2 57.1L280.8 57.5L280.0 58.9ZM277.2 57.1L278.0 55.5L281.6 55.9L280.8 57.5ZM278.0 55.5L278.8 54.3L282.3 54.7L281.6 55.9ZM285.1 59.9L285.9 58.5L289.4 58.9L288.7 60.3ZM285.9 58.5L286.7 57.0L290.3 57.4L289.4 58.9ZM286.7 57.0L287.5 55.6L291.0 56.0L290.3 57.4ZM293.8 61.3L294.6 60.0L298.1 60.4L297.4 61.7ZM294.6 60.0L295.4 58.5L298.9 58.9L298.1 60.4ZM295.4 58.5L296.2 57.0L299.7 57.4L298.9 58.9ZM303.3 61.4L304.1 60.0L307.6 60.4L306.8 61.8ZM304.1 60.0L304.9 58.5L308.4 58.9L307.6 60.4ZM304.9 58.5L305.6 57.2L309.2 57.6L308.4 58.9ZM312.0 62.8L312.8 61.4L316.3 61.9L315.5 63.2ZM312.8 61.4L313.6 59.9L317.1 60.3L316.3 61.9ZM313.6 59.9L314.3 58.6L317.9 59.0L317.1 60.3ZM320.7 64.2L321.5 62.9L325.0 63.3L324.3 64.6ZM321.5 62.9L322.3 61.4L325.8 61.8L325.0 63.3Z" fill="#ed7373" stroke="#ed7373" stroke-width="0.9"/><path d="M285.5 44.7L286.0 45.0L289.5 46.0L289.0 45.6ZM286.0 45.0L286.4 46.1L289.9 47.0L289.5 46.0ZM286.4 46.1L286.6 47.5L290.1 48.5L289.9 47.0ZM286.6 47.5L286.8 49.2L290.3 50.2L290.1 48.5ZM286.8 49.2L287.0 50.9L290.4 51.9L290.3 50.2ZM287.0 50.9L287.3 52.2L290.7 53.2L290.4 51.9ZM287.3 52.2L287.7 52.9L291.2 53.9L290.7 53.2ZM294.5 47.3L294.9 48.1L298.4 49.1L298.0 48.3ZM294.9 48.1L295.2 49.4L298.7 50.4L298.4 49.1ZM295.2 49.4L295.4 51.1L298.9 52.1L298.7 50.4ZM295.4 51.1L295.6 52.8L299.0 53.8L298.9 52.1ZM295.6 52.8L295.8 54.2L299.3 55.2L299.0 53.8ZM295.8 54.2L296.2 55.2L299.6 56.2L299.3 55.2ZM296.2 55.2L296.7 55.5L300.2 56.5L299.6 56.2ZM303.0 49.6L303.5 50.2L306.9 51.2L306.4 50.6ZM303.5 50.2L303.8 51.3L307.3 52.3L306.9 51.2ZM303.8 51.3L304.0 52.9L307.5 53.9L307.3 52.3ZM304.0 52.9L304.2 54.6L307.6 55.6L307.5 53.9ZM304.2 54.6L304.4 56.2L307.8 57.2L307.6 55.6ZM304.4 56.2L304.7 57.4L308.1 58.3L307.8 57.2ZM304.7 57.4L305.2 57.9L308.6 58.9L308.1 58.3ZM311.4 52.0L312.0 52.4L315.4 53.3L314.9 53.0ZM312.0 52.4L312.3 53.3L315.8 54.3L315.4 53.3ZM312.3 53.3L312.6 54.8L316.0 55.8L315.8 54.3ZM312.6 54.8L312.8 56.5L316.2 57.5L316.0 55.8ZM312.8 56.5L312.9 58.1L316.4 59.1L316.2 57.5ZM312.9 58.1L313.2 59.5L316.7 60.4L316.4 59.1ZM313.2 59.5L313.6 60.3L317.1 61.2L316.7 60.4ZM320.4 54.6L320.9 55.4L324.3 56.3L323.9 55.6ZM320.9 55.4L321.2 56.7L324.6 57.6L324.3 56.3ZM321.2 56.7L321.4 58.3L324.8 59.3L324.6 57.6ZM321.4 58.3L321.5 60.0L325.0 61.0L324.8 59.3ZM321.5 60.0L321.8 61.5L325.2 62.5L325.0 61.0ZM321.8 61.5L322.1 62.5L325.6 63.5L325.2 62.5ZM322.1 62.5L322.7 62.9L326.1 63.9L325.6 63.5Z" fill="#b04c4c" stroke="#b04c4c" stroke-width="0.9"/>
<path d="M279.3 50.6L280.0 50.4L283.4 51.4L282.7 51.6ZM287.7 52.9L288.3 53.0L291.8 54.0L291.2 53.9ZM293.9 47.1L294.5 47.3L298.0 48.3L297.4 48.1ZM302.3 49.7L303.0 49.6L306.4 50.6L305.8 50.7ZM305.2 57.9L305.9 57.8L309.3 58.8L308.6 58.9ZM313.6 60.3L314.2 60.4L317.7 61.4L317.1 61.2ZM319.8 54.5L320.4 54.6L323.9 55.6L323.3 55.5Z" fill="#d26262" stroke="#d26262" stroke-width="0.9"/>
<path d="M284.8 44.9L285.5 44.7L289.0 45.6L288.2 45.9ZM288.3 53.0L289.1 52.4L292.6 53.4L291.8 54.0ZM293.1 47.7L293.9 47.1L297.4 48.1L296.6 48.6ZM296.7 55.5L297.5 55.2L301.0 56.2L300.2 56.5ZM310.7 52.4L311.4 52.0L314.9 53.0L314.1 53.4ZM314.2 60.4L315.0 59.9L318.5 60.9L317.7 61.4ZM319.0 55.1L319.8 54.5L323.3 55.5L322.5 56.1ZM322.7 62.9L323.4 62.6L326.9 63.6L326.1 63.9Z" fill="#db6868" stroke="#db6868" stroke-width="0.9"/>
<path d="M280.0 50.4L280.8 49.6L284.3 50.6L283.4 51.4ZM283.9 45.8L284.8 44.9L288.2 45.9L287.3 46.8ZM297.5 55.2L298.4 54.3L301.9 55.2L301.0 56.2ZM301.4 50.4L302.3 49.7L305.8 50.7L304.9 51.4ZM305.9 57.8L306.7 57.1L310.2 58.1L309.3 58.8ZM309.8 53.3L310.7 52.4L314.1 53.4L313.2 54.3Z" fill="#e46d6d" stroke="#e46d6d" stroke-width="0.9"/>
<path d="M280.8 49.6L281.8 48.4L285.3 49.4L284.3 50.6ZM281.8 48.4L282.9 47.1L286.3 48.0L285.3 49.4ZM282.9 47.1L283.9 45.8L287.3 46.8L286.3 48.0ZM289.1 52.4L290.1 51.4L293.6 52.3L292.6 53.4ZM290.1 51.4L291.1 50.0L294.6 51.0L293.6 52.3ZM291.1 50.0L292.2 48.7L295.6 49.7L294.6 51.0ZM292.2 48.7L293.1 47.7L296.6 48.6L295.6 49.7ZM298.4 54.3L299.4 53.0L302.9 54.0L301.9 55.2ZM299.4 53.0L300.5 51.6L303.9 52.6L302.9 54.0ZM300.5 51.6L301.4 50.4L304.9 51.4L303.9 52.6ZM306.7 57.1L307.7 55.9L311.2 56.9L310.2 58.1ZM307.7 55.9L308.7 54.6L312.2 55.5L311.2 56.9ZM308.7 54.6L309.8 53.3L313.2 54.3L312.2 55.5ZM315.0 59.9L316.0 58.9L319.4 59.8L318.5 60.9ZM316.0 58.9L317.0 57.5L320.5 58.5L319.4 59.8ZM317.0 57.5L318.0 56.2L321.5 57.2L320.5 58.5ZM318.0 56.2L319.0 55.1L322.5 56.1L321.5 57.2Z" fill="#ed7373" stroke="#ed7373" stroke-width="0.9"/><path d="M280.2 60.3L280.6 60.8L284.0 62.2L283.5 61.7ZM280.6 60.8L280.9 61.8L284.2 63.3L284.0 62.2ZM280.9 61.8L280.9 63.4L284.2 64.8L284.2 63.3ZM280.9 63.4L280.8 65.1L284.1 66.6L284.2 64.8ZM280.8 65.1L280.8 66.8L284.1 68.2L284.1 66.6ZM280.8 66.8L280.9 68.0L284.2 69.5L284.1 68.2ZM280.9 68.0L281.3 68.8L284.6 70.2L284.2 69.5ZM288.3 63.8L288.8 64.2L292.1 65.6L291.6 65.2ZM288.8 64.2L289.1 65.1L292.4 66.5L292.1 65.6ZM289.1 65.1L289.1 66.6L292.4 68.0L292.4 66.5ZM289.1 66.6L289.1 68.3L292.4 69.7L292.4 68.0ZM289.1 68.3L289.0 70.0L292.3 71.4L292.4 69.7ZM289.0 70.0L289.1 71.4L292.4 72.8L292.3 71.4ZM289.1 71.4L289.4 72.2L292.7 73.7L292.4 72.8ZM297.0 67.6L297.3 68.4L300.6 69.8L300.3 69.0ZM297.3 68.4L297.4 69.7L300.7 71.2L300.6 69.8ZM297.4 69.7L297.4 71.4L300.7 72.8L300.7 71.2ZM297.4 71.4L297.3 73.1L300.6 74.6L300.7 72.8ZM297.3 73.1L297.3 74.6L300.6 76.1L300.6 74.6ZM297.3 74.6L297.6 75.7L300.9 77.1L300.6 76.1ZM297.6 75.7L298.1 76.1L301.4 77.5L300.9 77.1ZM305.1 71.1L305.5 71.7L308.8 73.2L308.4 72.5ZM305.5 71.7L305.6 73.0L309.0 74.4L308.8 73.2ZM305.6 73.0L305.6 74.6L308.9 76.0L309.0 74.4ZM305.6 74.6L305.6 76.3L308.9 77.7L308.9 76.0ZM305.6 76.3L305.6 77.9L308.9 79.3L308.9 77.7ZM305.6 77.9L305.8 79.0L309.1 80.5L308.9 79.3ZM305.8 79.0L306.2 79.6L309.5 81.0L309.1 80.5ZM313.2 74.6L313.7 75.1L317.0 76.5L316.5 76.0ZM313.7 75.1L313.9 76.2L317.2 77.6L317.0 76.5ZM313.9 76.2L313.9 77.7L317.2 79.2L317.2 77.6ZM313.9 77.7L313.8 79.5L317.1 80.9L317.2 79.2Z" fill="#b04c4c" stroke="#b04c4c" stroke-width="0.9"/>
<path d="M273.2 65.3L273.9 65.2L277.2 66.6L276.5 66.7ZM281.3 68.8L281.9 68.9L285.2 70.3L284.6 70.2ZM289.4 72.2L290.0 72.5L293.3 73.9L292.7 73.7ZM296.3 67.4L297.0 67.6L300.3 69.0L299.6 68.9ZM304.4 71.1L305.1 71.1L308.4 72.5L307.7 72.5ZM306.2 79.6L306.9 79.5L310.2 81.0L309.5 81.0Z" fill="#d26262" stroke="#d26262" stroke-width="0.9"/>
<path d="M279.4 60.4L280.2 60.3L283.5 61.7L282.7 61.8ZM287.4 64.1L288.3 63.8L291.6 65.2L290.8 65.6ZM290.0 72.5L290.9 72.1L294.2 73.5L293.3 73.9ZM295.5 67.9L296.3 67.4L299.6 68.9L298.8 69.3ZM298.1 76.1L298.9 75.8L302.2 77.3L301.4 77.5ZM312.4 74.7L313.2 74.6L316.5 76.0L315.8 76.2Z" fill="#db6868" stroke="#db6868" stroke-width="0.9"/>
<path d="M273.9 65.2L274.9 64.5L278.2 66.0L277.2 66.6ZM278.4 61.1L279.4 60.4L282.7 61.8L281.7 62.6ZM281.9 68.9L282.9 68.3L286.2 69.8L285.2 70.3ZM286.4 65.0L287.4 64.1L290.8 65.6L289.7 66.4ZM298.9 75.8L299.9 75.1L303.2 76.5L302.2 77.3ZM303.5 71.7L304.4 71.1L307.7 72.5L306.8 73.1ZM306.9 79.5L307.9 78.9L311.2 80.3L310.2 81.0ZM311.4 75.5L312.4 74.7L315.8 76.2L314.7 76.9Z" fill="#e46d6d" stroke="#e46d6d" stroke-width="0.9"/>
<path d="M274.9 64.5L276.0 63.5L279.3 64.9L278.2 66.0ZM276.0 63.5L277.2 62.2L280.6 63.7L279.3 64.9ZM277.2 62.2L278.4 61.1L281.7 62.6L280.6 63.7ZM282.9 68.3L284.0 67.3L287.3 68.8L286.2 69.8ZM284.0 67.3L285.2 66.1L288.5 67.6L287.3 68.8ZM285.2 66.1L286.4 65.0L289.7 66.4L288.5 67.6ZM290.9 72.1L291.9 71.2L295.2 72.6L294.2 73.5ZM291.9 71.2L293.2 70.0L296.5 71.5L295.2 72.6ZM293.2 70.0L294.4 68.8L297.7 70.2L296.5 71.5ZM294.4 68.8L295.5 67.9L298.8 69.3L297.7 70.2ZM299.9 75.1L301.1 73.9L304.4 75.3L303.2 76.5ZM301.1 73.9L302.3 72.7L305.6 74.1L304.4 75.3ZM302.3 72.7L303.5 71.7L306.8 73.1L305.6 74.1ZM307.9 78.9L309.1 77.8L312.4 79.2L311.2 80.3ZM309.1 77.8L310.3 76.6L313.6 78.0L312.4 79.2ZM310.3 76.6L311.4 75.5L314.7 76.9L313.6 78.0Z" fill="#ed7373" stroke="#ed7373" stroke-width="0.9"/>
<path d="M424.4 46.5 Q419 49 420.3 51 Q422 53 424.4 53.6" stroke="#5050e6" stroke-width="1.1" fill="none" stroke-linecap="round" stroke-linejoin="round"/><path d="M458 38.3 Q463 39 463 43" stroke="#5050e6" stroke-width="1.1" fill="none" stroke-linecap="round" stroke-linejoin="round"/><path d="M460 55.7 Q466 53 467 50" stroke="#5050e6" stroke-width="1.1" fill="none" stroke-linecap="round" stroke-linejoin="round"/><path d="M473 45 Q472 52 474 56 Q477 59 480.4 58.8" stroke="#5050e6" stroke-width="1.1" fill="none" stroke-linecap="round" stroke-linejoin="round"/><path d="M503 40.4 Q508 38 511 40 Q512 43 512 46" stroke="#5050e6" stroke-width="1.1" fill="none" stroke-linecap="round" stroke-linejoin="round"/><path d="M508 56.8 Q512 56 512 50" stroke="#5050e6" stroke-width="1.1" fill="none" stroke-linecap="round" stroke-linejoin="round"/><path d="M565 30.3 Q567 36 566 40 Q568 44 571 44.6" stroke="#5050e6" stroke-width="1.1" fill="none" stroke-linecap="round" stroke-linejoin="round"/><path d="M585.5 62.8 Q584 68 586.8 69.4 Q590 70.5 593.4 69.4 Q595 66 594 64" stroke="#5050e6" stroke-width="1.1" fill="none" stroke-linecap="round" stroke-linejoin="round"/><path d="M640.7 56.3 Q636 59 636.8 61.5 Q640 63 640 66 Q639 70 638 70.7 Q634 72 631.5 72" stroke="#5050e6" stroke-width="1.1" fill="none" stroke-linecap="round" stroke-linejoin="round"/><path d="M640.7 54 Q645 52 648.6 51 Q650 47 651.2 45.8 L656.5 46.4" stroke="#5050e6" stroke-width="1.1" fill="none" stroke-linecap="round" stroke-linejoin="round"/><path d="M415.9 61.7L416.6 61.8L420.1 61.1L419.5 61.0ZM416.6 61.8L417.4 62.6L420.9 61.8L420.1 61.1ZM417.4 62.6L418.3 63.8L421.8 63.0L420.9 61.8ZM418.3 63.8L419.3 65.2L422.8 64.4L421.8 63.0ZM419.3 65.2L420.2 66.5L423.7 65.8L422.8 64.4ZM420.2 66.5L421.1 67.5L424.6 66.8L423.7 65.8ZM421.1 67.5L421.8 68.0L425.3 67.2L424.6 66.8ZM424.5 59.9L425.2 59.8L428.7 59.0L428.1 59.1ZM425.2 59.8L425.9 60.3L429.4 59.5L428.7 59.0ZM425.9 60.3L426.8 61.4L430.3 60.6L429.4 59.5ZM426.8 61.4L427.8 62.8L431.3 62.0L430.3 60.6ZM427.8 62.8L428.7 64.2L432.2 63.4L431.3 62.0ZM428.7 64.2L429.6 65.3L433.1 64.5L432.2 63.4ZM429.6 65.3L430.4 65.9L433.9 65.2L433.1 64.5ZM430.4 65.9L431.0 65.9L434.5 65.1L433.9 65.2ZM433.7 57.8L434.4 58.1L438.0 57.3L437.2 57.0ZM434.4 58.1L435.3 59.0L438.8 58.3L438.0 57.3ZM435.3 59.0L436.2 60.4L439.7 59.6L438.8 58.3ZM436.2 60.4L437.2 61.8L440.7 61.0L439.7 59.6ZM437.2 61.8L438.1 63.0L441.6 62.3L440.7 61.0ZM438.1 63.0L438.9 63.9L442.4 63.1L441.6 62.3ZM438.9 63.9L439.6 64.1L443.1 63.3L442.4 63.1ZM442.3 55.9L443.0 56.0L446.5 55.2L445.8 55.1ZM443.0 56.0L443.8 56.7L447.3 56.0L446.5 55.2ZM443.8 56.7L444.7 58.0L448.2 57.2L447.3 56.0ZM444.7 58.0L445.7 59.4L449.2 58.6L448.2 57.2ZM445.7 59.4L446.6 60.7L450.1 60.0L449.2 58.6ZM446.6 60.7L447.5 61.7L451.0 60.9L450.1 60.0ZM447.5 61.7L448.2 62.1L451.7 61.3L451.0 60.9ZM450.9 54.0L451.5 53.9L455.0 53.2L454.4 53.3ZM451.5 53.9L452.3 54.5L455.8 53.7L455.0 53.2ZM452.3 54.5L453.2 55.6L456.7 54.8L455.8 53.7ZM453.2 55.6L454.1 57.0L457.6 56.2L456.7 54.8ZM454.1 57.0L455.1 58.4L458.6 57.6L457.6 56.2ZM455.1 58.4L456.0 59.5L459.5 58.7L458.6 57.6ZM456.0 59.5L456.8 60.1L460.3 59.3L459.5 58.7ZM456.8 60.1L457.4 60.1L460.9 59.3L460.3 59.3Z" fill="#40409e" stroke="#40409e" stroke-width="0.9"/>
<path d="M413.2 69.9L413.8 69.4L417.3 68.6L416.8 69.1ZM421.8 68.0L422.4 67.7L425.9 66.9L425.3 67.2ZM433.2 58.1L433.7 57.8L437.2 57.0L436.7 57.4ZM439.6 64.1L440.2 63.6L443.7 62.8L443.1 63.3ZM448.2 62.1L448.8 61.8L452.3 61.1L451.7 61.3Z" fill="#4f4fca" stroke="#4f4fca" stroke-width="0.9"/>
<path d="M415.4 62.3L415.9 61.7L419.5 61.0L418.9 61.5ZM422.4 67.7L422.9 66.8L426.4 66.0L425.9 66.9ZM424.1 60.7L424.5 59.9L428.1 59.1L427.6 59.9ZM431.0 65.9L431.5 65.2L435.0 64.4L434.5 65.1ZM441.8 56.5L442.3 55.9L445.8 55.1L445.3 55.7ZM448.8 61.8L449.2 60.9L452.7 60.1L452.3 61.1ZM450.4 54.8L450.9 54.0L454.4 53.3L454.0 54.1ZM457.4 60.1L457.9 59.3L461.4 58.6L460.9 59.3Z" fill="#5252d5" stroke="#5252d5" stroke-width="0.9"/>
<path d="M413.8 69.4L414.2 68.3L417.7 67.5L417.3 68.6ZM415.0 63.5L415.4 62.3L418.9 61.5L418.6 62.7ZM423.7 62.0L424.1 60.7L427.6 59.9L427.2 61.3ZM431.5 65.2L431.9 63.9L435.4 63.2L435.0 64.4ZM432.7 59.1L433.2 58.1L436.7 57.4L436.3 58.4ZM440.2 63.6L440.5 62.5L444.1 61.7L443.7 62.8ZM441.4 57.6L441.8 56.5L445.3 55.7L444.9 56.8ZM450.1 56.2L450.4 54.8L454.0 54.1L453.6 55.4ZM457.9 59.3L458.2 58.1L461.7 57.3L461.4 58.6Z" fill="#5656e1" stroke="#5656e1" stroke-width="0.9"/>
<path d="M414.2 68.3L414.5 66.8L418.0 66.0L417.7 67.5ZM414.5 66.8L414.7 65.1L418.3 64.3L418.0 66.0ZM414.7 65.1L415.0 63.5L418.6 62.7L418.3 64.3ZM422.9 66.8L423.2 65.4L426.7 64.6L426.4 66.0ZM423.2 65.4L423.5 63.7L427.0 62.9L426.7 64.6ZM423.5 63.7L423.7 62.0L427.2 61.3L427.0 62.9ZM431.9 63.9L432.2 62.3L435.7 61.5L435.4 63.2ZM432.2 62.3L432.4 60.6L435.9 59.8L435.7 61.5ZM432.4 60.6L432.7 59.1L436.3 58.4L435.9 59.8ZM440.5 62.5L440.9 60.9L444.4 60.1L444.1 61.7ZM440.9 60.9L441.1 59.2L444.6 58.4L444.4 60.1ZM441.1 59.2L441.4 57.6L444.9 56.8L444.6 58.4ZM449.2 60.9L449.5 59.5L453.1 58.7L452.7 60.1ZM449.5 59.5L449.8 57.8L453.3 57.0L453.1 58.7ZM449.8 57.8L450.1 56.2L453.6 55.4L453.3 57.0ZM458.2 58.1L458.5 56.4L462.0 55.6L461.7 57.3Z" fill="#5a5aec" stroke="#5a5aec" stroke-width="0.9"/><path d="M426.1 42.3L426.7 42.4L430.2 41.5L429.5 41.4ZM426.7 42.4L427.5 43.1L431.0 42.3L430.2 41.5ZM427.5 43.1L428.5 44.3L432.0 43.4L431.0 42.3ZM428.5 44.3L429.5 45.7L433.0 44.9L432.0 43.4ZM429.5 45.7L430.4 47.0L433.9 46.2L433.0 44.9ZM430.4 47.0L431.3 48.0L434.8 47.1L433.9 46.2ZM431.3 48.0L432.1 48.4L435.6 47.5L434.8 47.1ZM434.6 40.3L435.2 40.1L438.7 39.3L438.1 39.4ZM435.2 40.1L436.0 40.7L439.5 39.8L438.7 39.3ZM436.0 40.7L436.9 41.8L440.4 40.9L439.5 39.8ZM436.9 41.8L437.9 43.1L441.4 42.3L440.4 40.9ZM437.9 43.1L438.9 44.5L442.4 43.7L441.4 42.3ZM438.9 44.5L439.8 45.6L443.3 44.8L442.4 43.7ZM439.8 45.6L440.6 46.2L444.1 45.4L443.3 44.8ZM440.6 46.2L441.2 46.1L444.7 45.3L444.1 45.4ZM443.8 38.0L444.5 38.3L448.0 37.5L447.3 37.1ZM444.5 38.3L445.4 39.2L448.9 38.4L448.0 37.5ZM445.4 39.2L446.3 40.5L449.8 39.7L448.9 38.4ZM446.3 40.5L447.3 42.0L450.8 41.1L449.8 39.7ZM447.3 42.0L448.3 43.2L451.8 42.3L450.8 41.1ZM448.3 43.2L449.1 44.0L452.6 43.1L451.8 42.3ZM449.1 44.0L449.8 44.1L453.3 43.3L452.6 43.1ZM452.3 35.9L453.0 36.0L456.5 35.2L455.8 35.0ZM453.0 36.0L453.8 36.8L457.3 35.9L456.5 35.2ZM453.8 36.8L454.8 38.0L458.3 37.1L457.3 35.9ZM454.8 38.0L455.8 39.4L459.3 38.5L458.3 37.1ZM455.8 39.4L456.7 40.7L460.2 39.9L459.3 38.5Z" fill="#40409e" stroke="#40409e" stroke-width="0.9"/>
<path d="M423.5 50.5L424.1 50.0L427.6 49.2L427.0 49.7ZM432.1 48.4L432.7 48.1L436.1 47.3L435.6 47.5ZM443.2 38.3L443.8 38.0L447.3 37.1L446.7 37.5ZM449.8 44.1L450.3 43.6L453.8 42.7L453.3 43.3Z" fill="#4f4fca" stroke="#4f4fca" stroke-width="0.9"/>
<path d="M425.6 42.9L426.1 42.3L429.5 41.4L429.0 42.0ZM432.7 48.1L433.1 47.2L436.6 46.3L436.1 47.3ZM434.2 41.1L434.6 40.3L438.1 39.4L437.7 40.2ZM441.2 46.1L441.7 45.4L445.2 44.6L444.7 45.3ZM451.8 36.4L452.3 35.9L455.8 35.0L455.3 35.6Z" fill="#5252d5" stroke="#5252d5" stroke-width="0.9"/>
<path d="M424.1 50.0L424.4 48.9L427.9 48.1L427.6 49.2ZM425.2 44.1L425.6 42.9L429.0 42.0L428.7 43.2ZM433.8 42.4L434.2 41.1L437.7 40.2L437.3 41.6ZM441.7 45.4L442.0 44.1L445.5 43.3L445.2 44.6ZM442.8 39.3L443.2 38.3L446.7 37.5L446.3 38.5ZM450.3 43.6L450.7 42.4L454.2 41.6L453.8 42.7ZM451.4 37.6L451.8 36.4L455.3 35.6L454.9 36.7Z" fill="#5656e1" stroke="#5656e1" stroke-width="0.9"/>
<path d="M424.4 48.9L424.7 47.4L428.2 46.5L427.9 48.1ZM424.7 47.4L424.9 45.7L428.4 44.8L428.2 46.5ZM424.9 45.7L425.2 44.1L428.7 43.2L428.4 44.8ZM433.1 47.2L433.4 45.8L436.9 44.9L436.6 46.3ZM433.4 45.8L433.6 44.1L437.1 43.2L436.9 44.9ZM433.6 44.1L433.8 42.4L437.3 41.6L437.1 43.2ZM442.0 44.1L442.3 42.5L445.8 41.6L445.5 43.3ZM442.3 42.5L442.5 40.8L446.0 39.9L445.8 41.6ZM442.5 40.8L442.8 39.3L446.3 38.5L446.0 39.9ZM450.7 42.4L450.9 40.9L454.4 40.0L454.2 41.6ZM450.9 40.9L451.2 39.2L454.7 38.3L454.4 40.0ZM451.2 39.2L451.4 37.6L454.9 36.7L454.7 38.3Z" fill="#5a5aec" stroke="#5a5aec" stroke-width="0.9"/><path d="M426.3 49.5L427.0 49.6L430.5 49.0L429.8 48.8ZM427.0 49.6L427.7 50.4L431.3 49.7L430.5 49.0ZM427.7 50.4L428.6 51.7L432.2 51.0L431.3 49.7ZM428.6 51.7L429.5 53.1L433.1 52.5L432.2 51.0ZM429.5 53.1L430.4 54.5L434.0 53.8L433.1 52.5ZM430.4 54.5L431.3 55.5L434.8 54.8L434.0 53.8ZM431.3 55.5L432.0 55.9L435.5 55.3L434.8 54.8ZM435.0 47.9L435.6 47.9L439.1 47.2L438.5 47.3ZM435.6 47.9L436.4 48.5L439.9 47.8L439.1 47.2ZM436.4 48.5L437.2 49.6L440.8 49.0L439.9 47.8ZM437.2 49.6L438.1 51.1L441.7 50.4L440.8 49.0ZM438.1 51.1L439.0 52.5L442.6 51.8L441.7 50.4ZM439.0 52.5L439.9 53.6L443.4 53.0L442.6 51.8ZM439.9 53.6L440.6 54.2L444.2 53.6L443.4 53.0ZM440.6 54.2L441.3 54.1L444.8 53.5L444.2 53.6ZM444.3 46.2L445.0 46.6L448.5 45.9L447.8 45.5ZM445.0 46.6L445.8 47.6L449.4 47.0L448.5 45.9ZM445.8 47.6L446.7 49.0L450.3 48.3L449.4 47.0ZM446.7 49.0L447.6 50.5L451.2 49.8L450.3 48.3ZM447.6 50.5L448.5 51.7L452.0 51.1L451.2 49.8ZM448.5 51.7L449.3 52.5L452.8 51.8L452.0 51.1ZM449.3 52.5L450.0 52.6L453.5 51.9L452.8 51.8ZM452.9 44.5L453.6 44.8L457.2 44.1L456.5 43.9ZM453.6 44.8L454.4 45.6L458.0 45.0L457.2 44.1ZM454.4 45.6L455.3 47.0L458.9 46.3L458.0 45.0ZM455.3 47.0L456.2 48.4L459.8 47.8L458.9 46.3ZM456.2 48.4L457.1 49.8L460.7 49.1L459.8 47.8ZM457.1 49.8L457.9 50.7L461.5 50.0L460.7 49.1ZM457.9 50.7L458.6 51.0L462.2 50.3L461.5 50.0ZM461.6 42.9L462.3 43.0L465.8 42.3L465.2 42.3ZM462.3 43.0L463.0 43.7L466.6 43.0L465.8 42.3ZM463.0 43.7L463.9 44.9L467.5 44.3L466.6 43.0ZM463.9 44.9L464.8 46.4L468.4 45.7L467.5 44.3ZM464.8 46.4L465.7 47.8L469.3 47.1L468.4 45.7ZM465.7 47.8L466.6 48.8L470.1 48.2L469.3 47.1ZM466.6 48.8L467.3 49.3L470.8 48.7L470.1 48.2Z" fill="#40409e" stroke="#40409e" stroke-width="0.9"/>
<path d="M423.3 57.6L423.9 57.1L427.4 56.4L426.8 56.9ZM432.0 55.9L432.6 55.7L436.1 55.0L435.5 55.3ZM443.7 46.4L444.3 46.2L447.8 45.5L447.2 45.8ZM452.4 45.0L452.9 44.5L456.5 43.9L455.9 44.3ZM458.6 51.0L459.2 50.6L462.7 49.9L462.2 50.3Z" fill="#4f4fca" stroke="#4f4fca" stroke-width="0.9"/>
<path d="M425.8 50.0L426.3 49.5L429.8 48.8L429.3 49.4ZM434.5 48.7L435.0 47.9L438.5 47.3L438.0 48.0ZM441.3 54.1L441.8 53.4L445.3 52.7L444.8 53.5ZM443.2 47.3L443.7 46.4L447.2 45.8L446.7 46.7ZM450.0 52.6L450.5 52.0L454.0 51.4L453.5 51.9ZM461.1 43.5L461.6 42.9L465.2 42.3L464.6 42.9Z" fill="#5252d5" stroke="#5252d5" stroke-width="0.9"/>
<path d="M423.9 57.1L424.3 56.0L427.8 55.4L427.4 56.4ZM425.3 51.2L425.8 50.0L429.3 49.4L428.9 50.6ZM432.6 55.7L433.0 54.7L436.6 54.1L436.1 55.0ZM434.1 50.0L434.5 48.7L438.0 48.0L437.6 49.3ZM441.8 53.4L442.2 52.1L445.7 51.4L445.3 52.7ZM450.5 52.0L450.9 50.8L454.4 50.2L454.0 51.4ZM451.9 46.0L452.4 45.0L455.9 44.3L455.5 45.4ZM459.2 50.6L459.6 49.6L463.2 48.9L462.7 49.9ZM460.7 44.8L461.1 43.5L464.6 42.9L464.2 44.1Z" fill="#5656e1" stroke="#5656e1" stroke-width="0.9"/>
<path d="M424.3 56.0L424.7 54.5L428.2 53.8L427.8 55.4ZM424.7 54.5L425.0 52.8L428.5 52.1L428.2 53.8ZM425.0 52.8L425.3 51.2L428.9 50.6L428.5 52.1ZM433.0 54.7L433.4 53.3L437.0 52.6L436.6 54.1ZM433.4 53.3L433.7 51.6L437.3 50.9L437.0 52.6ZM433.7 51.6L434.1 50.0L437.6 49.3L437.3 50.9ZM442.2 52.1L442.5 50.4L446.0 49.8L445.7 51.4ZM442.5 50.4L442.8 48.7L446.4 48.1L446.0 49.8ZM442.8 48.7L443.2 47.3L446.7 46.7L446.4 48.1ZM450.9 50.8L451.3 49.3L454.8 48.6L454.4 50.2ZM451.3 49.3L451.6 47.6L455.1 46.9L454.8 48.6ZM451.6 47.6L451.9 46.0L455.5 45.4L455.1 46.9ZM459.6 49.6L460.0 48.1L463.6 47.4L463.2 48.9ZM460.0 48.1L460.3 46.4L463.9 45.7L463.6 47.4ZM460.3 46.4L460.7 44.8L464.2 44.1L463.9 45.7Z" fill="#5a5aec" stroke="#5a5aec" stroke-width="0.9"/><path d="M462.6 41.9L463.3 42.1L466.9 42.1L466.2 41.9ZM463.3 42.1L463.9 42.9L467.5 43.0L466.9 42.1ZM463.9 42.9L464.5 44.3L468.1 44.4L467.5 43.0ZM464.5 44.3L465.1 45.9L468.7 46.0L468.1 44.4ZM465.1 45.9L465.7 47.4L469.3 47.5L468.7 46.0ZM465.7 47.4L466.3 48.6L469.9 48.7L469.3 47.5ZM466.3 48.6L466.9 49.3L470.5 49.3L469.9 48.7ZM472.0 42.0L472.6 42.7L476.2 42.7L475.6 42.1ZM472.6 42.7L473.2 43.9L476.8 43.9L476.2 42.7ZM473.2 43.9L473.8 45.4L477.4 45.5L476.8 43.9ZM473.8 45.4L474.4 47.0L478.0 47.1L477.4 45.5ZM474.4 47.0L475.0 48.4L478.6 48.4L478.0 47.1ZM475.0 48.4L475.6 49.2L479.2 49.3L478.6 48.4ZM475.6 49.2L476.3 49.4L479.9 49.5L479.2 49.3ZM480.8 42.1L481.4 42.5L485.0 42.5L484.4 42.2ZM481.4 42.5L482.0 43.5L485.6 43.5L485.0 42.5ZM482.0 43.5L482.6 44.9L486.2 45.0L485.6 43.5ZM482.6 44.9L483.2 46.5L486.8 46.6L486.2 45.0ZM483.2 46.5L483.8 48.0L487.4 48.1L486.8 46.6ZM483.8 48.0L484.4 49.1L488.0 49.1L487.4 48.1ZM484.4 49.1L485.0 49.6L488.6 49.6L488.0 49.1ZM489.5 42.3L490.1 42.4L493.7 42.5L493.1 42.4ZM490.1 42.4L490.7 43.2L494.3 43.2L493.7 42.5ZM490.7 43.2L491.3 44.4L494.9 44.5L494.3 43.2ZM491.3 44.4L492.0 46.0L495.5 46.1L494.9 44.5ZM492.0 46.0L492.6 47.6L496.2 47.6L495.5 46.1ZM492.6 47.6L493.2 48.9L496.8 48.9L496.2 47.6ZM493.2 48.9L493.8 49.6L497.4 49.7L496.8 48.9ZM493.8 49.6L494.4 49.7L498.0 49.7L497.4 49.7ZM498.9 42.4L499.5 42.9L503.1 43.0L502.5 42.5ZM499.5 42.9L500.1 44.0L503.7 44.1L503.1 43.0ZM500.1 44.0L500.7 45.5L504.3 45.6L503.7 44.1ZM500.7 45.5L501.3 47.1L504.9 47.2L504.3 45.6ZM501.3 47.1L501.9 48.5L505.5 48.6L504.9 47.2ZM501.9 48.5L502.5 49.5L506.1 49.6L505.5 48.6ZM502.5 49.5L503.1 49.9L506.7 49.9L506.1 49.6ZM507.6 42.6L508.3 42.8L511.9 42.8L511.2 42.6ZM508.3 42.8L508.9 43.7L512.5 43.7L511.9 42.8ZM508.9 43.7L509.5 45.0L513.1 45.1L512.5 43.7ZM509.5 45.0L510.1 46.6L513.7 46.7L513.1 45.1ZM510.1 46.6L510.7 48.2L514.3 48.2L513.7 46.7ZM510.7 48.2L511.3 49.3L514.9 49.4L514.3 48.2ZM511.3 49.3L511.9 50.0L515.5 50.0L514.9 49.4ZM517.0 42.8L517.6 43.4L521.2 43.4L520.6 42.8ZM517.6 43.4L518.2 44.6L521.8 44.6L521.2 43.4ZM518.2 44.6L518.8 46.1L522.4 46.2L521.8 44.6ZM518.8 46.1L519.4 47.7L523.0 47.8L522.4 46.2ZM519.4 47.7L520.0 49.1L523.6 49.1L523.0 47.8ZM520.0 49.1L520.6 49.9L524.2 50.0L523.6 49.1ZM520.6 49.9L521.3 50.1L524.9 50.2L524.2 50.0ZM525.8 42.8L526.4 43.2L530.0 43.3L529.4 42.9ZM526.4 43.2L527.0 44.2L530.6 44.2L530.0 43.3ZM527.0 44.2L527.6 45.6L531.2 45.7L530.6 44.2ZM527.6 45.6L528.2 47.2L531.8 47.3L531.2 45.7Z" fill="#40409e" stroke="#40409e" stroke-width="0.9"/>
<path d="M458.1 49.2L458.8 48.8L462.4 48.9L461.7 49.2ZM466.9 49.3L467.5 49.2L471.1 49.2L470.5 49.3ZM471.4 42.1L472.0 42.0L475.6 42.1L475.0 42.2ZM480.1 42.5L480.8 42.1L484.4 42.2L483.7 42.5ZM485.0 49.6L485.6 49.4L489.2 49.4L488.6 49.6ZM498.3 42.6L498.9 42.4L502.5 42.5L501.9 42.7ZM503.1 49.9L503.8 49.5L507.4 49.6L506.7 49.9ZM511.9 50.0L512.5 49.9L516.1 50.0L515.5 50.0ZM516.4 42.8L517.0 42.8L520.6 42.8L520.0 42.9ZM525.1 43.2L525.8 42.8L529.4 42.9L528.7 43.2Z" fill="#4f4fca" stroke="#4f4fca" stroke-width="0.9"/>
<path d="M462.0 42.3L462.6 41.9L466.2 41.9L465.6 42.4ZM467.5 49.2L468.2 48.5L471.8 48.5L471.1 49.2ZM470.7 42.8L471.4 42.1L475.0 42.2L474.3 42.9ZM476.3 49.4L476.9 49.0L480.5 49.0L479.9 49.5ZM488.9 42.9L489.5 42.3L493.1 42.4L492.5 43.0ZM494.4 49.7L495.0 49.1L498.6 49.1L498.0 49.7ZM507.0 43.0L507.6 42.6L511.2 42.6L510.6 43.1ZM512.5 49.9L513.2 49.2L516.8 49.2L516.1 50.0ZM515.7 43.5L516.4 42.8L520.0 42.9L519.3 43.6ZM521.3 50.1L521.9 49.7L525.5 49.7L524.9 50.2Z" fill="#5252d5" stroke="#5252d5" stroke-width="0.9"/>
<path d="M458.8 48.8L459.4 47.9L463.0 47.9L462.4 48.9ZM461.4 43.4L462.0 42.3L465.6 42.4L465.0 43.5ZM476.9 49.0L477.5 47.9L481.1 47.9L480.5 49.0ZM479.5 43.4L480.1 42.5L483.7 42.5L483.1 43.5ZM485.6 49.4L486.3 48.5L489.9 48.6L489.2 49.4ZM488.2 44.1L488.9 42.9L492.5 43.0L491.8 44.1ZM495.0 49.1L495.7 47.9L499.3 48.0L498.6 49.1ZM497.6 43.5L498.3 42.6L501.9 42.7L501.2 43.5ZM503.8 49.5L504.4 48.6L508.0 48.6L507.4 49.6ZM506.4 44.1L507.0 43.0L510.6 43.1L510.0 44.2ZM521.9 49.7L522.5 48.6L526.1 48.6L525.5 49.7ZM524.5 44.1L525.1 43.2L528.7 43.2L528.1 44.2Z" fill="#5656e1" stroke="#5656e1" stroke-width="0.9"/>
<path d="M459.4 47.9L460.1 46.5L463.7 46.5L463.0 47.9ZM460.1 46.5L460.7 44.9L464.3 44.9L463.7 46.5ZM460.7 44.9L461.4 43.4L465.0 43.5L464.3 44.9ZM468.2 48.5L468.8 47.2L472.4 47.3L471.8 48.5ZM468.8 47.2L469.5 45.6L473.0 45.7L472.4 47.3ZM469.5 45.6L470.1 44.1L473.7 44.1L473.0 45.7ZM470.1 44.1L470.7 42.8L474.3 42.9L473.7 44.1ZM477.5 47.9L478.2 46.4L481.8 46.5L481.1 47.9ZM478.2 46.4L478.8 44.8L482.4 44.9L481.8 46.5ZM478.8 44.8L479.5 43.4L483.1 43.5L482.4 44.9ZM486.3 48.5L486.9 47.2L490.5 47.2L489.9 48.6ZM486.9 47.2L487.6 45.6L491.2 45.7L490.5 47.2ZM487.6 45.6L488.2 44.1L491.8 44.1L491.2 45.7ZM495.7 47.9L496.3 46.4L499.9 46.4L499.3 48.0ZM496.3 46.4L497.0 44.8L500.6 44.9L499.9 46.4ZM497.0 44.8L497.6 43.5L501.2 43.5L500.6 44.9ZM504.4 48.6L505.1 47.2L508.7 47.2L508.0 48.6ZM505.1 47.2L505.7 45.6L509.3 45.6L508.7 47.2ZM505.7 45.6L506.4 44.1L510.0 44.2L509.3 45.6ZM513.2 49.2L513.8 47.9L517.4 47.9L516.8 49.2ZM513.8 47.9L514.5 46.3L518.1 46.4L517.4 47.9ZM514.5 46.3L515.1 44.8L518.7 44.8L518.1 46.4ZM515.1 44.8L515.7 43.5L519.3 43.6L518.7 44.8ZM522.5 48.6L523.2 47.1L526.8 47.2L526.1 48.6ZM523.2 47.1L523.8 45.5L527.4 45.6L526.8 47.2ZM523.8 45.5L524.5 44.1L528.1 44.2L527.4 45.6Z" fill="#5a5aec" stroke="#5a5aec" stroke-width="0.9"/><path d="M472.5 39.6L473.1 39.8L476.7 39.5L476.1 39.2ZM473.1 39.8L473.9 40.7L477.4 40.3L476.7 39.5ZM473.9 40.7L474.6 42.0L478.2 41.7L477.4 40.3ZM474.6 42.0L475.4 43.6L479.0 43.2L478.2 41.7ZM475.4 43.6L476.2 45.0L479.8 44.7L479.0 43.2ZM476.2 45.0L476.9 46.1L480.5 45.7L479.8 44.7ZM476.9 46.1L477.6 46.5L481.2 46.2L480.5 45.7ZM481.3 38.8L482.0 38.8L485.5 38.5L484.9 38.4ZM482.0 38.8L482.7 39.6L486.2 39.3L485.5 38.5ZM482.7 39.6L483.4 40.9L487.0 40.5L486.2 39.3ZM483.4 40.9L484.2 42.4L487.8 42.1L487.0 40.5ZM484.2 42.4L485.0 43.9L488.6 43.6L487.8 42.1ZM485.0 43.9L485.7 45.0L489.3 44.7L488.6 43.6ZM485.7 45.0L486.4 45.6L490.0 45.3L489.3 44.7ZM490.8 37.9L491.5 38.5L495.1 38.2L494.4 37.6ZM491.5 38.5L492.2 39.7L495.8 39.4L495.1 38.2ZM492.2 39.7L493.0 41.2L496.6 40.9L495.8 39.4ZM493.0 41.2L493.8 42.8L497.4 42.4L496.6 40.9ZM493.8 42.8L494.5 44.0L498.1 43.7L497.4 42.4ZM494.5 44.0L495.2 44.7L498.8 44.4L498.1 43.7ZM495.2 44.7L495.9 44.7L499.5 44.4L498.8 44.4ZM499.6 37.0L500.3 37.5L503.9 37.2L503.2 36.7ZM500.3 37.5L501.0 38.6L504.6 38.3L503.9 37.2Z" fill="#40409e" stroke="#40409e" stroke-width="0.9"/>
<path d="M468.8 47.4L469.4 46.9L472.9 46.6L472.3 47.0ZM477.6 46.5L478.2 46.2L481.8 45.9L481.2 46.2ZM486.4 45.6L487.0 45.5L490.6 45.2L490.0 45.3ZM490.1 38.0L490.8 37.9L494.4 37.6L493.7 37.7ZM499.0 37.2L499.6 37.0L503.2 36.7L502.6 36.9Z" fill="#4f4fca" stroke="#4f4fca" stroke-width="0.9"/>
<path d="M471.9 40.1L472.5 39.6L476.1 39.2L475.5 39.7ZM480.7 39.4L481.3 38.8L484.9 38.4L484.3 39.1ZM487.0 45.5L487.6 44.7L491.2 44.4L490.6 45.2ZM489.6 38.8L490.1 38.0L493.7 37.7L493.2 38.4ZM495.9 44.7L496.4 44.1L500.0 43.7L499.5 44.4Z" fill="#5252d5" stroke="#5252d5" stroke-width="0.9"/>
<path d="M469.4 46.9L469.9 45.9L473.5 45.5L472.9 46.6ZM471.4 41.2L471.9 40.1L475.5 39.7L474.9 40.8ZM478.2 46.2L478.7 45.3L482.3 45.0L481.8 45.9ZM480.2 40.6L480.7 39.4L484.3 39.1L483.8 40.3ZM496.4 44.1L497.0 42.8L500.5 42.5L500.0 43.7ZM498.4 38.1L499.0 37.2L502.6 36.9L502.0 37.8Z" fill="#5656e1" stroke="#5656e1" stroke-width="0.9"/>
<path d="M469.9 45.9L470.4 44.4L474.0 44.0L473.5 45.5ZM470.4 44.4L470.9 42.7L474.4 42.4L474.0 44.0ZM470.9 42.7L471.4 41.2L474.9 40.8L474.4 42.4ZM478.7 45.3L479.2 43.9L482.8 43.5L482.3 45.0ZM479.2 43.9L479.7 42.2L483.3 41.9L482.8 43.5ZM479.7 42.2L480.2 40.6L483.8 40.3L483.3 41.9ZM487.6 44.7L488.1 43.3L491.7 43.0L491.2 44.4ZM488.1 43.3L488.6 41.7L492.2 41.4L491.7 43.0ZM488.6 41.7L489.1 40.1L492.7 39.7L492.2 41.4ZM489.1 40.1L489.6 38.8L493.2 38.4L492.7 39.7ZM497.0 42.8L497.4 41.2L501.0 40.9L500.5 42.5ZM497.4 41.2L497.9 39.5L501.5 39.2L501.0 40.9ZM497.9 39.5L498.4 38.1L502.0 37.8L501.5 39.2Z" fill="#5a5aec" stroke="#5a5aec" stroke-width="0.9"/><path d="M482.7 54.9L483.4 55.1L487.0 54.9L486.3 54.7ZM483.4 55.1L484.1 56.0L487.7 55.7L487.0 54.9ZM484.1 56.0L484.8 57.3L488.4 57.0L487.7 55.7ZM484.8 57.3L485.5 58.9L489.1 58.6L488.4 57.0ZM485.5 58.9L486.3 60.3L489.9 60.1L489.1 58.6ZM486.3 60.3L487.0 61.4L490.6 61.2L489.9 60.1ZM487.0 61.4L487.7 61.9L491.2 61.7L490.6 61.2ZM491.5 54.4L492.1 54.3L495.7 54.1L495.1 54.1ZM492.1 54.3L492.8 55.0L496.4 54.7L495.7 54.1ZM492.8 55.0L493.5 56.2L497.1 55.9L496.4 54.7ZM493.5 56.2L494.3 57.7L497.9 57.5L497.1 55.9ZM494.3 57.7L495.0 59.3L498.6 59.0L497.9 57.5ZM495.0 59.3L495.7 60.5L499.3 60.2L498.6 59.0ZM495.7 60.5L496.4 61.2L500.0 61.0L499.3 60.2ZM496.4 61.2L497.1 61.3L500.6 61.0L500.0 61.0ZM500.9 53.6L501.6 54.1L505.2 53.8L504.5 53.4ZM501.6 54.1L502.3 55.1L505.9 54.9L505.2 53.8ZM502.3 55.1L503.0 56.6L506.6 56.3L505.9 54.9ZM503.0 56.6L503.8 58.1L507.4 57.9L506.6 56.3ZM503.8 58.1L504.5 59.5L508.1 59.2L507.4 57.9ZM504.5 59.5L505.2 60.4L508.8 60.1L508.1 59.2ZM505.2 60.4L505.8 60.7L509.4 60.4L508.8 60.1Z" fill="#40409e" stroke="#40409e" stroke-width="0.9"/>
<path d="M478.9 62.6L479.5 62.2L483.1 62.0L482.5 62.4ZM487.7 61.9L488.3 61.8L491.9 61.5L491.2 61.7ZM500.3 53.9L500.9 53.6L504.5 53.4L503.9 53.6ZM505.8 60.7L506.4 60.2L510.0 60.0L509.4 60.4Z" fill="#4f4fca" stroke="#4f4fca" stroke-width="0.9"/>
<path d="M482.1 55.4L482.7 54.9L486.3 54.7L485.7 55.2ZM488.3 61.8L488.8 60.9L492.4 60.7L491.9 61.5ZM490.9 55.1L491.5 54.4L495.1 54.1L494.5 54.8ZM497.1 61.3L497.6 60.6L501.2 60.3L500.6 61.0Z" fill="#5252d5" stroke="#5252d5" stroke-width="0.9"/>
<path d="M479.5 62.2L480.0 61.2L483.6 60.9L483.1 62.0ZM481.6 56.5L482.1 55.4L485.7 55.2L485.2 56.3ZM490.4 56.3L490.9 55.1L494.5 54.8L494.0 56.1ZM497.6 60.6L498.2 59.4L501.8 59.1L501.2 60.3ZM499.7 54.8L500.3 53.9L503.9 53.6L503.3 54.5Z" fill="#5656e1" stroke="#5656e1" stroke-width="0.9"/>
<path d="M480.0 61.2L480.6 59.7L484.1 59.5L483.6 60.9ZM480.6 59.7L481.1 58.1L484.7 57.8L484.1 59.5ZM481.1 58.1L481.6 56.5L485.2 56.3L484.7 57.8ZM488.8 60.9L489.4 59.6L493.0 59.3L492.4 60.7ZM489.4 59.6L489.9 57.9L493.5 57.7L493.0 59.3ZM489.9 57.9L490.4 56.3L494.0 56.1L493.5 57.7ZM498.2 59.4L498.7 57.8L502.3 57.5L501.8 59.1ZM498.7 57.8L499.2 56.2L502.8 55.9L502.3 57.5ZM499.2 56.2L499.7 54.8L503.3 54.5L502.8 55.9Z" fill="#5a5aec" stroke="#5a5aec" stroke-width="0.9"/><path d="M519.4 31.4L520.1 31.6L523.7 31.2L523.0 31.0ZM520.1 31.6L520.8 32.4L524.4 32.0L523.7 31.2ZM520.8 32.4L521.6 33.8L525.2 33.4L524.4 32.0ZM521.6 33.8L522.4 35.3L526.0 34.9L525.2 33.4ZM522.4 35.3L523.2 36.7L526.8 36.4L526.0 34.9ZM523.2 36.7L523.9 37.8L527.5 37.4L526.8 36.4ZM523.9 37.8L524.6 38.2L528.2 37.9L527.5 37.4ZM528.2 30.5L528.9 30.5L532.5 30.1L531.8 30.1ZM528.9 30.5L529.6 31.2L533.2 30.9L532.5 30.1ZM529.6 31.2L530.4 32.5L533.9 32.1L533.2 30.9ZM530.4 32.5L531.1 34.0L534.7 33.6L533.9 32.1ZM531.1 34.0L531.9 35.5L535.5 35.1L534.7 33.6ZM531.9 35.5L532.7 36.6L536.3 36.3L535.5 35.1ZM532.7 36.6L533.4 37.2L537.0 36.9L536.3 36.3ZM537.7 29.5L538.4 30.1L541.9 29.7L541.3 29.1ZM538.4 30.1L539.1 31.2L542.7 30.8L541.9 29.7ZM539.1 31.2L539.9 32.7L543.5 32.3L542.7 30.8ZM539.9 32.7L540.7 34.2L544.3 33.8L543.5 32.3ZM540.7 34.2L541.5 35.5L545.1 35.1L544.3 33.8ZM541.5 35.5L542.2 36.2L545.8 35.9L545.1 35.1ZM542.2 36.2L542.8 36.3L546.4 35.9L545.8 35.9ZM546.5 28.5L547.2 28.9L550.7 28.6L550.1 28.2ZM547.2 28.9L547.9 30.0L551.5 29.6L550.7 28.6ZM547.9 30.0L548.7 31.4L552.3 31.0L551.5 29.6ZM548.7 31.4L549.5 32.9L553.1 32.6L552.3 31.0ZM549.5 32.9L550.3 34.3L553.8 33.9L553.1 32.6ZM550.3 34.3L551.0 35.2L554.6 34.8L553.8 33.9ZM551.0 35.2L551.6 35.4L555.2 35.0L554.6 34.8ZM555.3 27.6L555.9 27.9L559.5 27.5L558.9 27.2ZM555.9 27.9L556.7 28.8L560.3 28.4L559.5 27.5ZM556.7 28.8L557.4 30.1L561.0 29.7L560.3 28.4ZM557.4 30.1L558.2 31.7L561.8 31.3L561.0 29.7ZM558.2 31.7L559.0 33.1L562.6 32.7L561.8 31.3ZM559.0 33.1L559.8 34.1L563.4 33.7L562.6 32.7ZM559.8 34.1L560.4 34.5L564.0 34.1L563.4 33.7Z" fill="#40409e" stroke="#40409e" stroke-width="0.9"/>
<path d="M515.8 39.2L516.4 38.7L520.0 38.4L519.4 38.8ZM524.6 38.2L525.2 38.0L528.8 37.6L528.2 37.9ZM533.4 37.2L534.0 37.2L537.6 36.8L537.0 36.9ZM537.1 29.6L537.7 29.5L541.3 29.1L540.6 29.3ZM545.9 28.8L546.5 28.5L550.1 28.2L549.4 28.4ZM551.6 35.4L552.2 34.9L555.8 34.6L555.2 35.0ZM554.7 28.0L555.3 27.6L558.9 27.2L558.3 27.7ZM560.4 34.5L561.1 34.2L564.6 33.8L564.0 34.1Z" fill="#4f4fca" stroke="#4f4fca" stroke-width="0.9"/>
<path d="M518.8 31.9L519.4 31.4L523.0 31.0L522.4 31.5ZM527.7 31.1L528.2 30.5L531.8 30.1L531.3 30.7ZM534.0 37.2L534.6 36.4L538.2 36.0L537.6 36.8ZM536.5 30.4L537.1 29.6L540.6 29.3L540.1 30.1ZM542.8 36.3L543.4 35.7L547.0 35.3L546.4 35.9Z" fill="#5252d5" stroke="#5252d5" stroke-width="0.9"/>
<path d="M516.4 38.7L516.9 37.7L520.5 37.3L520.0 38.4ZM518.3 33.0L518.8 31.9L522.4 31.5L521.9 32.6ZM525.2 38.0L525.7 37.0L529.3 36.7L528.8 37.6ZM527.2 32.4L527.7 31.1L531.3 30.7L530.7 32.0ZM543.4 35.7L543.9 34.5L547.5 34.1L547.0 35.3ZM545.3 29.8L545.9 28.8L549.4 28.4L548.9 29.4ZM552.2 34.9L552.8 33.9L556.3 33.5L555.8 34.6ZM554.2 29.1L554.7 28.0L558.3 27.7L557.7 28.8ZM561.1 34.2L561.6 33.2L565.2 32.8L564.6 33.8Z" fill="#5656e1" stroke="#5656e1" stroke-width="0.9"/>
<path d="M516.9 37.7L517.4 36.2L521.0 35.8L520.5 37.3ZM517.4 36.2L517.9 34.5L521.4 34.1L521.0 35.8ZM517.9 34.5L518.3 33.0L521.9 32.6L521.4 34.1ZM525.7 37.0L526.2 35.6L529.8 35.3L529.3 36.7ZM526.2 35.6L526.7 34.0L530.3 33.6L529.8 35.3ZM526.7 34.0L527.2 32.4L530.7 32.0L530.3 33.6ZM534.6 36.4L535.1 35.1L538.7 34.7L538.2 36.0ZM535.1 35.1L535.5 33.4L539.1 33.0L538.7 34.7ZM535.5 33.4L536.0 31.8L539.6 31.4L539.1 33.0ZM536.0 31.8L536.5 30.4L540.1 30.1L539.6 31.4ZM543.9 34.5L544.4 32.9L548.0 32.5L547.5 34.1ZM544.4 32.9L544.8 31.2L548.4 30.8L548.0 32.5ZM544.8 31.2L545.3 29.8L548.9 29.4L548.4 30.8ZM552.8 33.9L553.2 32.3L556.8 31.9L556.3 33.5ZM553.2 32.3L553.7 30.6L557.3 30.3L556.8 31.9ZM553.7 30.6L554.2 29.1L557.7 28.8L557.3 30.3ZM561.6 33.2L562.1 31.8L565.7 31.4L565.2 32.8ZM562.1 31.8L562.5 30.1L566.1 29.7L565.7 31.4ZM562.5 30.1L563.0 28.5L566.6 28.1L566.1 29.7Z" fill="#5a5aec" stroke="#5a5aec" stroke-width="0.9"/><path d="M522.7 39.4L523.3 39.7L526.9 39.7L526.3 39.5ZM523.3 39.7L523.9 40.6L527.5 40.7L526.9 39.7ZM523.9 40.6L524.5 42.0L528.1 42.1L527.5 40.7ZM524.5 42.0L525.1 43.7L528.7 43.7L528.1 42.1ZM525.1 43.7L525.7 45.2L529.3 45.3L528.7 43.7ZM525.7 45.2L526.3 46.3L529.9 46.4L529.3 45.3ZM526.3 46.3L527.0 46.8L530.6 46.9L529.9 46.4ZM531.6 39.6L532.2 39.7L535.8 39.8L535.2 39.7ZM532.2 39.7L532.8 40.5L536.4 40.6L535.8 39.8ZM532.8 40.5L533.4 41.9L537.0 42.0L536.4 40.6ZM533.4 41.9L534.0 43.5L537.6 43.6L537.0 42.0ZM534.0 43.5L534.6 45.1L538.2 45.2L537.6 43.6ZM534.6 45.1L535.2 46.3L538.8 46.4L538.2 45.2ZM535.2 46.3L535.8 47.0L539.4 47.1L538.8 46.4ZM541.0 39.9L541.7 40.5L545.3 40.6L544.6 39.9ZM541.7 40.5L542.3 41.7L545.9 41.8L545.3 40.6ZM542.3 41.7L542.9 43.3L546.5 43.4L545.9 41.8ZM542.9 43.3L543.5 44.9L547.1 45.0L546.5 43.4ZM543.5 44.9L544.1 46.3L547.7 46.4L547.1 45.0ZM544.1 46.3L544.7 47.1L548.3 47.2L547.7 46.4ZM544.7 47.1L545.3 47.3L548.9 47.3L548.3 47.2ZM549.9 40.0L550.5 40.5L554.1 40.6L553.5 40.1ZM550.5 40.5L551.1 41.6L554.7 41.7L554.1 40.6ZM551.1 41.6L551.7 43.2L555.3 43.2L554.7 41.7ZM551.7 43.2L552.3 44.8L555.9 44.9L555.3 43.2ZM552.3 44.8L552.9 46.2L556.5 46.3L555.9 44.9ZM552.9 46.2L553.5 47.2L557.1 47.3L556.5 46.3ZM553.5 47.2L554.2 47.5L557.8 47.6L557.1 47.3ZM558.8 40.2L559.4 40.5L563.0 40.6L562.4 40.3ZM559.4 40.5L560.0 41.5L563.6 41.6L563.0 40.6ZM560.0 41.5L560.6 43.0L564.2 43.1L563.6 41.6ZM560.6 43.0L561.2 44.6L564.8 44.7L564.2 43.1Z" fill="#40409e" stroke="#40409e" stroke-width="0.9"/>
<path d="M518.1 46.7L518.8 46.3L522.4 46.4L521.7 46.7ZM527.0 46.8L527.6 46.7L531.2 46.7L530.6 46.9ZM535.8 47.0L536.5 47.0L540.1 47.1L539.4 47.1ZM540.4 39.9L541.0 39.9L544.6 39.9L544.0 40.0ZM549.3 40.2L549.9 40.0L553.5 40.1L552.9 40.3ZM554.2 47.5L554.8 47.1L558.4 47.2L557.8 47.6ZM558.1 40.6L558.8 40.2L562.4 40.3L561.7 40.6Z" fill="#4f4fca" stroke="#4f4fca" stroke-width="0.9"/>
<path d="M522.1 39.8L522.7 39.4L526.3 39.5L525.7 39.9ZM530.9 40.2L531.6 39.6L535.2 39.7L534.5 40.3ZM536.5 47.0L537.1 46.3L540.7 46.4L540.1 47.1ZM539.8 40.6L540.4 39.9L544.0 40.0L543.4 40.7ZM545.3 47.3L546.0 46.7L549.6 46.8L548.9 47.3Z" fill="#5252d5" stroke="#5252d5" stroke-width="0.9"/>
<path d="M518.8 46.3L519.4 45.3L523.0 45.4L522.4 46.4ZM521.4 40.8L522.1 39.8L525.7 39.9L525.0 40.9ZM527.6 46.7L528.3 45.8L531.9 45.9L531.2 46.7ZM530.3 41.3L530.9 40.2L534.5 40.3L533.9 41.4ZM546.0 46.7L546.6 45.6L550.2 45.6L549.6 46.8ZM548.6 41.1L549.3 40.2L552.9 40.3L552.2 41.2ZM554.8 47.1L555.5 46.1L559.1 46.1L558.4 47.2ZM557.5 41.6L558.1 40.6L561.7 40.6L561.1 41.6Z" fill="#5656e1" stroke="#5656e1" stroke-width="0.9"/>
<path d="M519.4 45.3L520.1 43.9L523.7 44.0L523.0 45.4ZM520.1 43.9L520.7 42.3L524.3 42.4L523.7 44.0ZM520.7 42.3L521.4 40.8L525.0 40.9L524.3 42.4ZM528.3 45.8L528.9 44.5L532.5 44.5L531.9 45.9ZM528.9 44.5L529.6 42.9L533.2 43.0L532.5 44.5ZM529.6 42.9L530.3 41.3L533.9 41.4L533.2 43.0ZM537.1 46.3L537.8 45.0L541.4 45.1L540.7 46.4ZM537.8 45.0L538.4 43.5L542.0 43.5L541.4 45.1ZM538.4 43.5L539.1 41.9L542.7 42.0L542.0 43.5ZM539.1 41.9L539.8 40.6L543.4 40.7L542.7 42.0ZM546.6 45.6L547.3 44.0L550.9 44.1L550.2 45.6ZM547.3 44.0L547.9 42.4L551.5 42.5L550.9 44.1ZM547.9 42.4L548.6 41.1L552.2 41.2L551.5 42.5ZM555.5 46.1L556.1 44.6L559.7 44.7L559.1 46.1ZM556.1 44.6L556.8 43.0L560.4 43.1L559.7 44.7ZM556.8 43.0L557.5 41.6L561.1 41.6L560.4 43.1Z" fill="#5a5aec" stroke="#5a5aec" stroke-width="0.9"/><path d="M522.5 47.3L523.1 47.5L526.7 47.4L526.1 47.2ZM523.1 47.5L523.8 48.3L527.4 48.2L526.7 47.4ZM523.8 48.3L524.4 49.7L528.0 49.6L527.4 48.2ZM524.4 49.7L525.1 51.3L528.7 51.2L528.0 49.6ZM525.1 51.3L525.8 52.8L529.4 52.7L528.7 51.2ZM525.8 52.8L526.4 53.9L530.0 53.8L529.4 52.7ZM526.4 53.9L527.1 54.5L530.7 54.4L530.0 53.8ZM531.9 47.1L532.5 47.7L536.1 47.7L535.5 47.0ZM532.5 47.7L533.2 48.9L536.8 48.9L536.1 47.7ZM533.2 48.9L533.9 50.5L537.5 50.4L536.8 48.9ZM533.9 50.5L534.5 52.0L538.1 52.0L537.5 50.4ZM534.5 52.0L535.2 53.4L538.8 53.3L538.1 52.0ZM535.2 53.4L535.8 54.1L539.4 54.1L538.8 53.3ZM535.8 54.1L536.5 54.3L540.1 54.2L539.4 54.1ZM540.7 46.8L541.3 47.2L544.9 47.1L544.3 46.7ZM541.3 47.2L542.0 48.3L545.6 48.2L544.9 47.1ZM542.0 48.3L542.6 49.7L546.2 49.6L545.6 48.2ZM542.6 49.7L543.3 51.3L546.9 51.2L546.2 49.6ZM543.3 51.3L544.0 52.7L547.6 52.6L546.9 51.2ZM544.0 52.7L544.6 53.7L548.2 53.6L547.6 52.6ZM544.6 53.7L545.2 54.1L548.8 54.0L548.2 53.6ZM549.5 46.6L550.1 46.8L553.7 46.7L553.1 46.5ZM550.1 46.8L550.7 47.6L554.3 47.5L553.7 46.7ZM550.7 47.6L551.4 48.9L555.0 48.9L554.3 47.5ZM551.4 48.9L552.1 50.5L555.7 50.4L555.0 48.9ZM552.1 50.5L552.7 52.0L556.3 52.0L555.7 50.4ZM552.7 52.0L553.4 53.2L557.0 53.1L556.3 52.0ZM553.4 53.2L554.0 53.8L557.6 53.7L557.0 53.1ZM558.9 46.4L559.5 47.0L563.1 47.0L562.5 46.3ZM559.5 47.0L560.2 48.2L563.8 48.1L563.1 47.0Z" fill="#40409e" stroke="#40409e" stroke-width="0.9"/>
<path d="M518.3 54.7L518.9 54.4L522.5 54.3L521.9 54.7ZM527.1 54.5L527.7 54.4L531.3 54.3L530.7 54.4ZM531.3 47.1L531.9 47.1L535.5 47.0L534.9 47.0ZM540.1 47.1L540.7 46.8L544.3 46.7L543.7 47.0ZM545.2 54.1L545.9 53.8L549.5 53.7L548.8 54.0ZM554.0 53.8L554.6 53.8L558.2 53.7L557.6 53.7ZM558.2 46.5L558.9 46.4L562.5 46.3L561.8 46.4Z" fill="#4f4fca" stroke="#4f4fca" stroke-width="0.9"/>
<path d="M521.9 47.7L522.5 47.3L526.1 47.2L525.5 47.6ZM527.7 54.4L528.3 53.6L531.9 53.5L531.3 54.3ZM530.7 47.8L531.3 47.1L534.9 47.0L534.3 47.8ZM536.5 54.3L537.1 53.7L540.7 53.6L540.1 54.2ZM548.8 47.1L549.5 46.6L553.1 46.5L552.4 47.1ZM554.6 53.8L555.3 53.0L558.9 52.9L558.2 53.7ZM557.6 47.3L558.2 46.5L561.8 46.4L561.2 47.2Z" fill="#5252d5" stroke="#5252d5" stroke-width="0.9"/>
<path d="M518.9 54.4L519.5 53.4L523.1 53.3L522.5 54.3ZM521.3 48.8L521.9 47.7L525.5 47.6L524.9 48.7ZM537.1 53.7L537.7 52.6L541.3 52.5L540.7 53.6ZM539.5 48.0L540.1 47.1L543.7 47.0L543.1 47.9ZM545.9 53.8L546.5 52.8L550.1 52.7L549.5 53.7ZM548.2 48.3L548.8 47.1L552.4 47.1L551.8 48.2Z" fill="#5656e1" stroke="#5656e1" stroke-width="0.9"/>
<path d="M519.5 53.4L520.1 51.9L523.7 51.9L523.1 53.3ZM520.1 51.9L520.7 50.3L524.3 50.2L523.7 51.9ZM520.7 50.3L521.3 48.8L524.9 48.7L524.3 50.2ZM528.3 53.6L528.9 52.3L532.5 52.2L531.9 53.5ZM528.9 52.3L529.5 50.7L533.1 50.6L532.5 52.2ZM529.5 50.7L530.1 49.1L533.7 49.0L533.1 50.6ZM530.1 49.1L530.7 47.8L534.3 47.8L533.7 49.0ZM537.7 52.6L538.3 51.0L541.9 51.0L541.3 52.5ZM538.3 51.0L538.9 49.4L542.5 49.3L541.9 51.0ZM538.9 49.4L539.5 48.0L543.1 47.9L542.5 49.3ZM546.5 52.8L547.1 51.4L550.7 51.3L550.1 52.7ZM547.1 51.4L547.6 49.8L551.2 49.7L550.7 51.3ZM547.6 49.8L548.2 48.3L551.8 48.2L551.2 49.7ZM555.3 53.0L555.8 51.7L559.4 51.6L558.9 52.9ZM555.8 51.7L556.4 50.1L560.0 50.0L559.4 51.6ZM556.4 50.1L557.0 48.6L560.6 48.5L560.0 50.0ZM557.0 48.6L557.6 47.3L561.2 47.2L560.6 48.5Z" fill="#5a5aec" stroke="#5a5aec" stroke-width="0.9"/><path d="M566.1 42.2L566.7 42.5L570.2 43.0L569.7 42.7ZM566.7 42.5L567.2 43.5L570.7 44.0L570.2 43.0ZM567.2 43.5L567.6 45.0L571.2 45.5L570.7 44.0ZM567.6 45.0L568.0 46.7L571.6 47.2L571.2 45.5ZM568.0 46.7L568.4 48.3L572.0 48.7L571.6 47.2ZM568.4 48.3L568.9 49.5L572.5 50.0L572.0 48.7ZM568.9 49.5L569.4 50.1L573.0 50.6L572.5 50.0ZM574.8 43.5L575.4 43.6L579.0 44.1L578.4 44.0ZM575.4 43.6L576.0 44.4L579.5 44.9L579.0 44.1ZM576.0 44.4L576.4 45.8L580.0 46.3L579.5 44.9ZM576.4 45.8L576.8 47.4L580.4 47.9L580.0 46.3ZM576.8 47.4L577.2 49.1L580.8 49.6L580.4 47.9ZM577.2 49.1L577.7 50.4L581.2 50.9L580.8 49.6ZM577.7 50.4L578.2 51.2L581.8 51.7L581.2 50.9ZM578.2 51.2L578.8 51.4L582.4 51.9L581.8 51.7ZM584.2 44.7L584.7 45.4L588.3 45.8L587.8 45.2ZM584.7 45.4L585.2 46.6L588.8 47.1L588.3 45.8ZM585.2 46.6L585.6 48.2L589.2 48.7L588.8 47.1ZM585.6 48.2L586.0 49.8L589.6 50.3L589.2 48.7ZM586.0 49.8L586.5 51.3L590.0 51.8L589.6 50.3ZM586.5 51.3L587.0 52.3L590.5 52.8L590.0 51.8ZM587.0 52.3L587.5 52.6L591.1 53.1L590.5 52.8ZM592.9 45.9L593.5 46.3L597.1 46.8L596.5 46.4ZM593.5 46.3L594.0 47.4L597.6 47.9L597.1 46.8ZM594.0 47.4L594.4 48.9L598.0 49.4L597.6 47.9ZM594.4 48.9L594.8 50.6L598.4 51.1L598.0 49.4ZM594.8 50.6L595.2 52.2L598.8 52.6L598.4 51.1ZM595.2 52.2L595.7 53.3L599.3 53.8L598.8 52.6ZM595.7 53.3L596.3 53.8L599.8 54.3L599.3 53.8ZM601.7 47.1L602.3 47.4L605.8 47.9L605.2 47.6ZM602.3 47.4L602.8 48.3L606.3 48.8L605.8 47.9ZM602.8 48.3L603.2 49.7L606.8 50.2L606.3 48.8ZM603.2 49.7L603.6 51.4L607.2 51.8L606.8 50.2ZM603.6 51.4L604.0 53.0L607.6 53.5L607.2 51.8ZM604.0 53.0L604.5 54.3L608.1 54.8L607.6 53.5ZM604.5 54.3L605.0 55.0L608.6 55.5L608.1 54.8ZM611.0 48.5L611.5 49.2L615.1 49.7L614.6 49.0ZM611.5 49.2L612.0 50.5L615.6 51.0L615.1 49.7ZM612.0 50.5L612.4 52.1L616.0 52.6L615.6 51.0ZM612.4 52.1L612.8 53.8L616.4 54.3L616.0 52.6ZM612.8 53.8L613.3 55.2L616.8 55.7L616.4 54.3ZM613.3 55.2L613.8 56.1L617.3 56.6L616.8 55.7ZM613.8 56.1L614.4 56.3L617.9 56.8L617.3 56.6ZM619.8 49.6L620.3 50.2L623.9 50.7L623.3 50.1ZM620.3 50.2L620.8 51.3L624.4 51.8L623.9 50.7ZM620.8 51.3L621.2 52.8L624.8 53.3L624.4 51.8ZM621.2 52.8L621.6 54.5L625.2 55.0L624.8 53.3ZM621.6 54.5L622.0 56.0L625.6 56.5L625.2 55.0ZM622.0 56.0L622.5 57.1L626.1 57.6L625.6 56.5ZM622.5 57.1L623.1 57.6L626.7 58.1L626.1 57.6ZM628.5 50.8L629.1 51.2L632.6 51.7L632.1 51.3ZM629.1 51.2L629.6 52.2L633.1 52.6L632.6 51.7ZM629.6 52.2L630.0 53.6L633.6 54.1L633.1 52.6ZM630.0 53.6L630.4 55.3L634.0 55.8L633.6 54.1ZM630.4 55.3L630.8 56.9L634.4 57.4L634.0 55.8ZM630.8 56.9L631.3 58.1L634.9 58.6L634.4 57.4ZM631.3 58.1L631.8 58.7L635.4 59.2L634.9 58.6ZM637.2 52.1L637.8 52.2L641.4 52.7L640.8 52.6ZM637.8 52.2L638.4 53.0L641.9 53.5L641.4 52.7ZM638.4 53.0L638.8 54.4L642.4 54.9L641.9 53.5ZM638.8 54.4L639.2 56.0L642.8 56.5L642.4 54.9Z" fill="#40409e" stroke="#40409e" stroke-width="0.9"/>
<path d="M560.7 48.9L561.4 48.7L564.9 49.1L564.3 49.4ZM569.4 50.1L570.1 50.0L573.7 50.5L573.0 50.6ZM583.5 44.8L584.2 44.7L587.8 45.2L587.1 45.3ZM592.3 46.2L592.9 45.9L596.5 46.4L595.8 46.7ZM596.3 53.8L596.9 53.7L600.5 54.2L599.8 54.3ZM605.0 55.0L605.7 55.0L609.2 55.5L608.6 55.5ZM610.4 48.4L611.0 48.5L614.6 49.0L613.9 48.9ZM619.1 49.8L619.8 49.6L623.3 50.1L622.7 50.3ZM623.1 57.6L623.8 57.3L627.3 57.8L626.7 58.1ZM631.8 58.7L632.5 58.7L636.1 59.2L635.4 59.2Z" fill="#4f4fca" stroke="#4f4fca" stroke-width="0.9"/>
<path d="M565.4 42.6L566.1 42.2L569.7 42.7L569.0 43.1ZM570.1 50.0L570.8 49.3L574.4 49.8L573.7 50.5ZM574.1 44.0L574.8 43.5L578.4 44.0L577.7 44.5ZM578.8 51.4L579.5 50.8L583.1 51.3L582.4 51.9ZM582.8 45.5L583.5 44.8L587.1 45.3L586.4 46.0ZM587.5 52.6L588.2 52.3L591.8 52.8L591.1 53.1ZM601.0 47.6L601.7 47.1L605.2 47.6L604.5 48.1ZM605.7 55.0L606.4 54.4L609.9 54.9L609.2 55.5ZM609.7 49.1L610.4 48.4L613.9 48.9L613.2 49.6ZM614.4 56.3L615.1 55.9L618.6 56.4L617.9 56.8ZM627.8 51.2L628.5 50.8L632.1 51.3L631.4 51.7ZM632.5 58.7L633.2 58.0L636.8 58.5L636.1 59.2ZM636.5 52.7L637.2 52.1L640.8 52.6L640.1 53.2Z" fill="#5252d5" stroke="#5252d5" stroke-width="0.9"/>
<path d="M561.4 48.7L562.1 47.8L565.7 48.3L564.9 49.1ZM564.6 43.5L565.4 42.6L569.0 43.1L568.2 44.0ZM573.3 45.1L574.1 44.0L577.7 44.5L576.9 45.6ZM579.5 50.8L580.3 49.7L583.9 50.2L583.1 51.3ZM588.2 52.3L589.0 51.3L592.6 51.8L591.8 52.8ZM591.5 47.1L592.3 46.2L595.8 46.7L595.1 47.6ZM596.9 53.7L597.7 52.9L601.3 53.4L600.5 54.2ZM600.2 48.7L601.0 47.6L604.5 48.1L603.7 49.1ZM615.1 55.9L615.9 54.8L619.4 55.3L618.6 56.4ZM618.3 50.6L619.1 49.8L622.7 50.3L621.9 51.1ZM623.8 57.3L624.5 56.4L628.1 56.9L627.3 57.8ZM627.0 52.2L627.8 51.2L631.4 51.7L630.6 52.7ZM635.7 53.8L636.5 52.7L640.1 53.2L639.3 54.3Z" fill="#5656e1" stroke="#5656e1" stroke-width="0.9"/>
<path d="M562.1 47.8L563.0 46.4L566.5 46.9L565.7 48.3ZM563.0 46.4L563.8 44.9L567.4 45.4L566.5 46.9ZM563.8 44.9L564.6 43.5L568.2 44.0L567.4 45.4ZM570.8 49.3L571.6 48.1L575.2 48.6L574.4 49.8ZM571.6 48.1L572.5 46.6L576.0 47.1L575.2 48.6ZM572.5 46.6L573.3 45.1L576.9 45.6L576.0 47.1ZM580.3 49.7L581.2 48.3L584.7 48.7L583.9 50.2ZM581.2 48.3L582.0 46.8L585.6 47.3L584.7 48.7ZM582.0 46.8L582.8 45.5L586.4 46.0L585.6 47.3ZM589.0 51.3L589.8 49.9L593.4 50.4L592.6 51.8ZM589.8 49.9L590.7 48.4L594.2 48.9L593.4 50.4ZM590.7 48.4L591.5 47.1L595.1 47.6L594.2 48.9ZM597.7 52.9L598.5 51.6L602.1 52.1L601.3 53.4ZM598.5 51.6L599.3 50.1L602.9 50.6L602.1 52.1ZM599.3 50.1L600.2 48.7L603.7 49.1L602.9 50.6ZM606.4 54.4L607.2 53.2L610.7 53.7L609.9 54.9ZM607.2 53.2L608.0 51.7L611.6 52.2L610.7 53.7ZM608.0 51.7L608.9 50.3L612.4 50.8L611.6 52.2ZM608.9 50.3L609.7 49.1L613.2 49.6L612.4 50.8ZM615.9 54.8L616.7 53.4L620.3 53.9L619.4 55.3ZM616.7 53.4L617.5 51.9L621.1 52.4L620.3 53.9ZM617.5 51.9L618.3 50.6L621.9 51.1L621.1 52.4ZM624.5 56.4L625.4 55.1L628.9 55.6L628.1 56.9ZM625.4 55.1L626.2 53.6L629.8 54.1L628.9 55.6ZM626.2 53.6L627.0 52.2L630.6 52.7L629.8 54.1ZM633.2 58.0L634.0 56.7L637.6 57.2L636.8 58.5ZM634.0 56.7L634.9 55.2L638.4 55.7L637.6 57.2ZM634.9 55.2L635.7 53.8L639.3 54.3L638.4 55.7Z" fill="#5a5aec" stroke="#5a5aec" stroke-width="0.9"/><path d="M584.2 53.9L584.8 54.2L588.4 54.2L587.8 54.0ZM584.8 54.2L585.5 55.0L589.1 55.1L588.4 54.2ZM585.5 55.0L586.1 56.4L589.7 56.4L589.1 55.1ZM586.1 56.4L586.7 58.0L590.3 58.1L589.7 56.4ZM586.7 58.0L587.3 59.6L590.9 59.6L590.3 58.1ZM587.3 59.6L587.9 60.7L591.5 60.7L590.9 59.6ZM587.9 60.7L588.6 61.3L592.2 61.3L591.5 60.7ZM593.6 54.1L594.2 54.7L597.8 54.8L597.2 54.1ZM594.2 54.7L594.9 56.0L598.5 56.0L597.8 54.8ZM594.9 56.0L595.5 57.5L599.1 57.6L598.5 56.0ZM595.5 57.5L596.1 59.1L599.7 59.1L599.1 57.6ZM596.1 59.1L596.7 60.4L600.3 60.5L599.7 59.1ZM596.7 60.4L597.3 61.2L600.9 61.3L600.3 60.5ZM597.3 61.2L598.0 61.4L601.6 61.4L600.9 61.3ZM602.4 54.1L603.0 54.5L606.6 54.5L606.0 54.1ZM603.0 54.5L603.7 55.6L607.3 55.6L606.6 54.5ZM603.7 55.6L604.3 57.0L607.9 57.1L607.3 55.6ZM604.3 57.0L604.9 58.6L608.5 58.7L607.9 57.1ZM604.9 58.6L605.5 60.1L609.1 60.1L608.5 58.7ZM605.5 60.1L606.1 61.1L609.7 61.1L609.1 60.1ZM606.1 61.1L606.7 61.5L610.3 61.5L609.7 61.1ZM611.2 54.1L611.8 54.3L615.4 54.4L614.8 54.2ZM611.8 54.3L612.4 55.2L616.0 55.2L615.4 54.4ZM612.4 55.2L613.1 56.6L616.7 56.6L616.0 55.2ZM613.1 56.6L613.7 58.2L617.3 58.2L616.7 56.6ZM613.7 58.2L614.3 59.7L617.9 59.7L617.3 58.2ZM614.3 59.7L614.9 60.9L618.5 60.9L617.9 59.7ZM614.9 60.9L615.5 61.5L619.1 61.5L618.5 60.9ZM620.6 54.2L621.2 54.9L624.8 54.9L624.2 54.3ZM621.2 54.9L621.8 56.1L625.4 56.1L624.8 54.9ZM621.8 56.1L622.5 57.7L626.1 57.7L625.4 56.1ZM622.5 57.7L623.1 59.2L626.7 59.3L626.1 57.7ZM623.1 59.2L623.7 60.6L627.3 60.6L626.7 59.3ZM623.7 60.6L624.3 61.4L627.9 61.4L627.3 60.6ZM624.3 61.4L624.9 61.6L628.5 61.6L627.9 61.4ZM629.4 54.2L630.0 54.7L633.6 54.7L633.0 54.3ZM630.0 54.7L630.6 55.7L634.2 55.7L633.6 54.7ZM630.6 55.7L631.2 57.2L634.8 57.2L634.2 55.7ZM631.2 57.2L631.9 58.8L635.5 58.8L634.8 57.2ZM631.9 58.8L632.5 60.2L636.1 60.3L635.5 58.8ZM632.5 60.2L633.1 61.3L636.7 61.3L636.1 60.3ZM633.1 61.3L633.7 61.7L637.3 61.7L636.7 61.3Z" fill="#40409e" stroke="#40409e" stroke-width="0.9"/>
<path d="M579.8 61.3L580.4 60.9L584.0 61.0L583.4 61.3ZM588.6 61.3L589.2 61.2L592.8 61.2L592.2 61.3ZM593.0 54.1L593.6 54.1L597.2 54.1L596.6 54.1ZM601.8 54.3L602.4 54.1L606.0 54.1L605.4 54.3ZM606.7 61.5L607.4 61.2L611.0 61.2L610.3 61.5ZM615.5 61.5L616.2 61.4L619.8 61.4L619.1 61.5ZM620.0 54.3L620.6 54.2L624.2 54.3L623.6 54.3ZM628.8 54.5L629.4 54.2L633.0 54.3L632.4 54.6ZM633.7 61.7L634.3 61.4L637.9 61.4L637.3 61.7Z" fill="#4f4fca" stroke="#4f4fca" stroke-width="0.9"/>
<path d="M583.6 54.4L584.2 53.9L587.8 54.0L587.2 54.4ZM589.2 61.2L589.8 60.4L593.4 60.5L592.8 61.2ZM592.4 54.8L593.0 54.1L596.6 54.1L596.0 54.8ZM598.0 61.4L598.6 60.8L602.2 60.9L601.6 61.4ZM610.6 54.6L611.2 54.1L614.8 54.2L614.2 54.6ZM616.2 61.4L616.8 60.7L620.4 60.7L619.8 61.4ZM619.3 55.0L620.0 54.3L623.6 54.3L622.9 55.0ZM624.9 61.6L625.6 61.1L629.2 61.1L628.5 61.6Z" fill="#5252d5" stroke="#5252d5" stroke-width="0.9"/>
<path d="M580.4 60.9L581.0 60.0L584.6 60.0L584.0 61.0ZM583.0 55.5L583.6 54.4L587.2 54.4L586.6 55.5ZM598.6 60.8L599.2 59.7L602.8 59.7L602.2 60.9ZM601.1 55.2L601.8 54.3L605.4 54.3L604.7 55.2ZM607.4 61.2L608.0 60.2L611.6 60.2L611.0 61.2ZM609.9 55.7L610.6 54.6L614.2 54.6L613.5 55.7ZM625.6 61.1L626.2 60.0L629.8 60.0L629.2 61.1ZM628.1 55.5L628.8 54.5L632.4 54.6L631.7 55.5ZM634.3 61.4L635.0 60.5L638.6 60.5L637.9 61.4Z" fill="#5656e1" stroke="#5656e1" stroke-width="0.9"/>
<path d="M581.0 60.0L581.7 58.5L585.3 58.6L584.6 60.0ZM581.7 58.5L582.3 56.9L585.9 57.0L585.3 58.6ZM582.3 56.9L583.0 55.5L586.6 55.5L585.9 57.0ZM589.8 60.4L590.5 59.1L594.1 59.2L593.4 60.5ZM590.5 59.1L591.1 57.6L594.7 57.6L594.1 59.2ZM591.1 57.6L591.7 56.0L595.3 56.0L594.7 57.6ZM591.7 56.0L592.4 54.8L596.0 54.8L595.3 56.0ZM599.2 59.7L599.9 58.2L603.5 58.2L602.8 59.7ZM599.9 58.2L600.5 56.6L604.1 56.6L603.5 58.2ZM600.5 56.6L601.1 55.2L604.7 55.2L604.1 56.6ZM608.0 60.2L608.6 58.8L612.2 58.8L611.6 60.2ZM608.6 58.8L609.3 57.2L612.9 57.2L612.2 58.8ZM609.3 57.2L609.9 55.7L613.5 55.7L612.9 57.2ZM616.8 60.7L617.4 59.4L621.0 59.4L620.4 60.7ZM617.4 59.4L618.1 57.8L621.7 57.9L621.0 59.4ZM618.1 57.8L618.7 56.3L622.3 56.3L621.7 57.9ZM618.7 56.3L619.3 55.0L622.9 55.0L622.3 56.3ZM626.2 60.0L626.8 58.5L630.4 58.5L629.8 60.0ZM626.8 58.5L627.5 56.9L631.1 56.9L630.4 58.5ZM627.5 56.9L628.1 55.5L631.7 55.5L631.1 56.9Z" fill="#5a5aec" stroke="#5a5aec" stroke-width="0.9"/><path d="M602.6 52.9L603.0 53.4L606.2 55.1L605.8 54.6ZM603.0 53.4L603.2 54.5L606.4 56.1L606.2 55.1ZM603.2 54.5L603.1 56.0L606.3 57.6L606.4 56.1ZM603.1 56.0L603.0 57.7L606.2 59.3L606.3 57.6ZM603.0 57.7L602.8 59.3L606.0 61.0L606.2 59.3ZM602.8 59.3L602.8 60.7L606.0 62.3L606.0 61.0ZM602.8 60.7L603.1 61.5L606.3 63.1L606.0 62.3ZM610.9 57.3L611.2 58.2L614.4 59.8L614.1 59.0ZM611.2 58.2L611.2 59.6L614.4 61.2L614.4 59.8ZM611.2 59.6L611.0 61.2L614.2 62.9L614.4 61.2ZM611.0 61.2L610.8 62.9L614.0 64.6L614.2 62.9ZM610.8 62.9L610.8 64.4L614.0 66.0L614.0 64.6ZM610.8 64.4L611.0 65.4L614.2 67.0L614.0 66.0ZM611.0 65.4L611.5 65.8L614.7 67.4L614.2 67.0ZM618.8 61.3L619.1 62.0L622.3 63.6L622.0 62.9ZM619.1 62.0L619.2 63.2L622.4 64.8L622.3 63.6ZM619.2 63.2L619.1 64.8L622.3 66.4L622.4 64.8ZM619.1 64.8L618.9 66.5L622.1 68.2L622.3 66.4ZM618.9 66.5L618.8 68.1L622.0 69.7L622.1 68.2ZM618.8 68.1L618.9 69.2L622.1 70.9L622.0 69.7ZM618.9 69.2L619.3 69.9L622.5 71.5L622.1 70.9ZM626.6 65.3L627.0 65.8L630.2 67.4L629.8 67.0ZM627.0 65.8L627.2 66.9L630.4 68.5L630.2 67.4ZM627.2 66.9L627.1 68.4L630.3 70.0L630.4 68.5ZM627.1 68.4L626.9 70.1L630.1 71.7L630.3 70.0ZM626.9 70.1L626.8 71.7L630.0 73.4L630.1 71.7ZM626.8 71.7L626.8 73.0L630.0 74.7L630.0 73.4ZM626.8 73.0L627.1 73.8L630.3 75.5L630.0 74.7Z" fill="#40409e" stroke="#40409e" stroke-width="0.9"/>
<path d="M595.3 57.5L596.0 57.4L599.2 59.1L598.5 59.1ZM603.1 61.5L603.7 61.6L606.9 63.3L606.3 63.1ZM610.4 57.0L610.9 57.3L614.1 59.0L613.6 58.7ZM618.1 61.2L618.8 61.3L622.0 62.9L621.3 62.8ZM619.3 69.9L620.0 69.8L623.2 71.5L622.5 71.5ZM627.1 73.8L627.7 74.0L630.9 75.7L630.3 75.5Z" fill="#4f4fca" stroke="#4f4fca" stroke-width="0.9"/>
<path d="M601.8 53.0L602.6 52.9L605.8 54.6L605.0 54.7ZM603.7 61.6L604.7 61.2L607.9 62.9L606.9 63.3ZM609.5 57.3L610.4 57.0L613.6 58.7L612.7 59.0ZM611.5 65.8L612.3 65.6L615.5 67.2L614.7 67.4ZM625.8 65.4L626.6 65.3L629.8 67.0L629.0 67.1ZM627.7 74.0L628.6 73.6L631.8 75.3L630.9 75.7Z" fill="#5252d5" stroke="#5252d5" stroke-width="0.9"/>
<path d="M596.0 57.4L597.0 56.9L600.2 58.5L599.2 59.1ZM600.8 53.7L601.8 53.0L605.0 54.7L604.0 55.4ZM612.3 65.6L613.4 64.8L616.6 66.5L615.5 67.2ZM617.1 61.7L618.1 61.2L621.3 62.8L620.3 63.4ZM620.0 69.8L621.0 69.3L624.2 70.9L623.2 71.5ZM624.7 66.1L625.8 65.4L629.0 67.1L627.9 67.8Z" fill="#5656e1" stroke="#5656e1" stroke-width="0.9"/>
<path d="M597.0 56.9L598.2 55.9L601.4 57.5L600.2 58.5ZM598.2 55.9L599.5 54.7L602.7 56.4L601.4 57.5ZM599.5 54.7L600.8 53.7L604.0 55.4L602.7 56.4ZM604.7 61.2L605.8 60.4L609.0 62.0L607.9 62.9ZM605.8 60.4L607.1 59.2L610.3 60.9L609.0 62.0ZM607.1 59.2L608.4 58.2L611.6 59.8L610.3 60.9ZM608.4 58.2L609.5 57.3L612.7 59.0L611.6 59.8ZM613.4 64.8L614.7 63.8L617.8 65.4L616.6 66.5ZM614.7 63.8L615.9 62.6L619.1 64.3L617.8 65.4ZM615.9 62.6L617.1 61.7L620.3 63.4L619.1 64.3ZM621.0 69.3L622.2 68.3L625.4 69.9L624.2 70.9ZM622.2 68.3L623.5 67.1L626.7 68.8L625.4 69.9ZM623.5 67.1L624.7 66.1L627.9 67.8L626.7 68.8Z" fill="#5a5aec" stroke="#5a5aec" stroke-width="0.9"/>
<line x1="69" y1="147.5" x2="661.5" y2="147.5" stroke="#a0a0a0" stroke-width="1"/>
<line x1="69" y1="173.5" x2="661.5" y2="173.5" stroke="#a0a0a0" stroke-width="1"/>
<line x1="69" y1="199.5" x2="661.5" y2="199.5" stroke="#a0a0a0" stroke-width="1"/>
<line x1="69" y1="225.5" x2="661.5" y2="225.5" stroke="#a0a0a0" stroke-width="1"/>
<line x1="69" y1="251.5" x2="661.5" y2="251.5" stroke="#a0a0a0" stroke-width="1"/>
<line x1="69" y1="277.5" x2="661.5" y2="277.5" stroke="#a0a0a0" stroke-width="1"/>
<line x1="69" y1="303.5" x2="661.5" y2="303.5" stroke="#a0a0a0" stroke-width="1"/>
<line x1="72.5" y1="145.5" x2="72.5" y2="307" stroke="#8a8a8a" stroke-width="1.2"/>
<line x1="70" y1="388" x2="663" y2="388" stroke="#cccccc" stroke-width="1.8"/>
<line x1="70" y1="418.0" x2="657.5" y2="418.0" stroke="#b8a8a0" stroke-width="1"/>
<line x1="70" y1="448.3" x2="657.5" y2="448.3" stroke="#b8a8a0" stroke-width="1"/>
<line x1="70" y1="478.6" x2="657.5" y2="478.6" stroke="#b8a8a0" stroke-width="1"/>
<line x1="70" y1="508.9" x2="657.5" y2="508.9" stroke="#b8a8a0" stroke-width="1"/>
<line x1="70" y1="539.2" x2="657.5" y2="539.2" stroke="#b8a8a0" stroke-width="1"/>
<line x1="70" y1="569.5" x2="657.5" y2="569.5" stroke="#b8a8a0" stroke-width="1"/>
<line x1="73.5" y1="388" x2="73.5" y2="573" stroke="#b0a098" stroke-width="1"/>
<line x1="73.5" y1="388.5" x2="73.5" y2="395" stroke="#909090" stroke-width="1"/>
<g clip-path="url(#ca)">
<polyline points="72.8,302.4 84.0,298.7 85.7,299.0 87.3,296.8 89.0,295.4 90.6,296.2 92.2,295.6 93.9,294.0 95.7,291.6 97.4,291.1 99.2,287.8 100.9,286.0 103.0,285.6 105.0,283.3 106.5,289.0 108.2,282.3 110.0,275.0 114.1,257.4 118.0,275.0 122.0,293.0 124.1,287.9 126.2,284.7 128.3,290.0 130.4,294.0 132.5,292.0 134.6,289.0 136.7,291.5 138.8,296.0 140.9,295.4 143.0,294.5 144.7,297.0 146.4,298.2 148.0,297.6 149.7,298.4 151.3,300.0 152.9,299.3 154.5,297.8 156.1,298.3 157.7,298.6 159.3,297.1 160.9,294.9 162.5,295.0 164.1,293.9 165.7,291.8 167.3,290.1 168.9,290.5 170.5,289.1 172.1,287.5 173.7,285.3 175.3,284.7 177.0,281.9 178.6,280.0 180.1,281.2 181.7,283.1 183.2,283.2 185.3,273.5 187.5,265.0 190.7,273.6 196.0,260.7 200.4,269.3 204.6,245.7 206.8,265.0 211.0,250.0 215.4,262.9 218.6,243.6 222.9,275.7 226.1,250.0 230.0,255.0 233.6,220.0 236.1,230.7 239.3,195.4 242.5,226.4 246.8,193.2 248.9,193.2 251.7,232.9 255.4,205.0 259.6,247.9 263.3,233.9 266.7,248.9 272.5,252.1 276.0,240.0 278.9,248.9 283.2,210.4 286.4,243.6 290.3,207.1 294.1,238.2 298.2,189.1 302.3,224.5 307.7,174.1 311.3,221.8 315.9,180.9 318.6,221.8 323.3,160.5 326.8,227.3 331.5,163.2 335.0,232.7 338.5,180.9 343.2,227.3 347.2,186.4 349.1,224.5 351.0,202.7 355.4,235.4 358.6,270.9 361.9,247.7 364.6,273.6 368.2,224.5 372.3,265.4 376.0,250.0 380.0,262.0 384.0,250.0 388.0,262.0 392.7,213.6 396.3,276.4 400.0,238.7 403.4,219.1 407.8,158.8 412.6,193.9 416.8,171.4 419.1,184.1 422.4,140.6 425.8,186.9 429.4,143.4 433.6,192.5 437.8,151.8 442.1,207.9 446.3,177.1 449.1,224.7 453.3,186.9 458.0,233.0 461.8,201.4 465.4,238.2 468.1,224.5 474.1,249.1 482.3,257.3 484.1,260.5 485.9,265.3 487.7,269.5 489.5,270.4 491.4,271.7 493.2,273.6 495.0,276.3 496.8,278.2 498.6,281.8 500.4,284.6 502.3,285.5 504.1,288.6 505.9,291.7 507.7,292.6 509.5,295.5 511.0,296.6 512.5,296.6 514.0,295.7 515.5,296.8 517.3,298.1 519.1,297.6 520.9,298.2 522.5,299.2 524.2,300.0 525.8,299.1 527.5,299.9 529.1,300.9 530.7,300.3 532.4,298.4 534.0,298.5 535.7,298.5 537.3,296.8 539.0,295.3 540.7,296.1 542.4,295.3 544.1,294.1 546.2,290.8 548.2,287.3 549.7,284.6 551.2,282.5 552.7,281.8 554.2,279.1 555.8,280.2 557.5,282.2 559.1,284.5 561.2,277.6 563.2,270.9 564.9,276.1 566.5,280.0 568.2,271.4 570.0,264.5 571.6,274.0 573.2,281.8 575.2,286.6 577.3,292.7 579.3,295.8 581.4,299.5 583.0,294.2 584.6,287.3 586.4,271.4 588.2,257.3 589.8,246.9 591.4,234.5 592.9,222.7 594.5,212.3 597.2,227.3 600.0,222.0 603.7,238.2 608.0,245.0 611.0,252.0 614.0,270.0 616.0,274.1 618.0,280.0 620.0,283.4 622.0,285.0 624.0,286.5 626.0,288.0 627.8,286.2 629.6,285.9 631.8,292.3 634.0,296.8 635.6,295.1 637.3,294.1 639.3,295.8 641.4,298.2 643.5,300.5 645.5,300.9 647.2,299.8 648.9,301.0 650.6,300.3 652.3,299.5 654.1,299.2 655.9,299.5 657.7,298.2 659.5,298.4 661.3,299.5" fill="none" stroke="#2158cc" stroke-width="3.1" stroke-linejoin="round" stroke-linecap="round"/>
<polyline points="72.8,286.6 77.0,281.8 79.8,239.7 84.5,288.9 88.2,239.5 92.3,287.0 95.2,240.7 100.0,277.5 104.2,211.6 106.5,279.0 110.5,218.5 115.0,207.0 118.5,218.5 122.0,267.0 124.5,277.0 126.6,263.5 128.0,273.0 130.4,269.3 134.6,227.5 136.8,222.1 138.9,277.9 143.9,182.5 146.4,247.9 149.6,256.4 152.6,297.0 155.0,258.6 157.1,252.1 159.3,269.3 163.6,193.2 166.8,271.4 170.0,229.6 172.1,228.6 176.4,269.3 178.6,223.2 181.8,267.0 185.5,237.0 189.0,269.3 191.8,245.7 196.0,237.1 199.3,286.4 202.5,260.7 206.8,287.5 210.0,256.4 213.9,273.6 218.1,209.3 221.1,241.4 224.6,224.3 226.7,284.3 231.0,213.6 236.8,280.0 239.7,222.1 244.6,291.8 248.3,241.4 252.1,292.8 256.4,226.4 261.8,286.4 268.2,228.6 271.0,275.7 276.8,212.5 281.1,282.1 285.4,227.5 289.6,270.0 292.5,223.5 296.5,288.0 300.5,224.5 302.5,267.7 305.4,256.7 309.5,284.3 317.2,227.0 320.5,262.7 322.9,270.8 324.3,224.0 327.3,259.8 332.0,277.1 337.5,284.9 340.6,238.0 343.2,284.5 346.7,243.6 348.5,292.7 351.8,243.6 355.4,232.7 358.6,284.5 362.7,276.4 366.8,281.8 372.3,265.4 377.2,202.7 380.5,254.5 383.7,217.7 388.6,281.8 392.0,250.0 397.4,290.0 402.6,231.0 405.5,250.0 408.0,238.0 411.0,252.0 414.6,212.1 416.8,265.4 421.0,216.3 423.8,266.8 427.5,223.3 429.4,280.8 435.0,227.5 440.7,280.8 444.9,219.1 450.5,283.6 454.7,227.5 458.3,296.0 461.8,230.0 465.9,287.3 471.4,220.4 474.6,284.5 479.5,228.6 485.0,281.8 487.2,193.2 491.8,224.5 494.5,216.4 498.1,287.3 501.9,238.2 505.5,288.6 508.2,234.1 512.5,288.0 517.6,253.2 520.4,280.4 525.8,219.1 528.5,262.7 531.8,247.7 536.0,252.0 540.5,232.7 544.1,266.8 548.2,202.7 553.1,234.1 556.9,216.4 559.1,265.4 563.2,227.3 567.5,284.5 570.5,265.4 575.4,247.7 581.4,281.8 589.0,227.3 592.3,273.6 597.2,230.0 600.5,195.9 603.2,235.4 605.9,270.9 609.0,240.0 613.3,298.2 616.4,242.3 619.0,280.0 622.3,220.4 626.9,295.5 630.5,231.4 634.0,281.8 637.3,221.8 641.4,281.8 644.1,251.8 646.5,251.8 649.5,281.8 653.6,261.4 655.8,295.5 661.3,297.6" fill="none" stroke="#cc5526" stroke-width="3.1" stroke-linejoin="round" stroke-linecap="round"/>
<polyline points="72.8,261.2 73.8,261.3 74.8,261.2 75.8,260.8 76.8,260.3 77.8,260.0 78.8,260.0 79.8,260.4 80.8,260.8 81.8,261.0 82.8,260.8 83.8,260.4 84.8,259.9 85.8,259.6 86.8,259.6 87.8,260.0 88.8,260.4 89.8,260.6 90.8,260.4 91.8,260.0 92.8,259.5 93.8,259.2 94.8,259.3 95.8,259.6 96.8,260.0 97.8,260.2 98.8,260.0 99.8,259.6 100.8,258.9 101.8,258.5 102.8,258.3 103.8,258.5 104.8,258.7 105.8,258.6 106.8,258.3 107.8,257.6 108.8,256.9 109.8,256.5 110.8,256.1 111.8,256.0 112.8,256.0 113.8,255.7 114.8,256.1 115.8,256.4 116.8,256.7 117.8,257.3 118.8,257.6 119.8,258.1 120.8,258.6 121.8,258.9 122.8,258.9 123.8,258.6 124.8,258.2 125.8,258.0 126.8,258.1 127.8,258.4 128.8,258.8 129.8,259.1 130.8,258.9 131.8,258.5 132.8,258.0 133.8,257.8 134.8,257.8 135.8,258.2 136.8,258.6 137.8,258.8 138.8,258.7 139.8,258.3 140.8,257.8 141.8,257.5 142.8,257.6 143.8,258.0 144.8,258.4 145.8,258.6 146.8,258.5 147.8,258.0 148.8,257.6 149.8,257.3 150.8,257.4 151.8,257.7 152.8,258.1 153.8,258.4 154.8,258.2 155.8,257.8 156.8,257.3 157.8,257.1 158.8,257.1 159.8,257.5 160.8,257.9 161.8,258.1 162.8,258.0 163.8,257.6 164.8,257.1 165.8,256.8 166.8,256.9 167.8,257.3 168.8,257.7 169.8,257.9 170.8,257.8 171.8,257.3 172.8,256.9 173.8,256.6 174.8,256.7 175.8,257.0 176.8,257.4 177.8,257.7 178.8,257.5 179.8,257.1 180.8,256.6 181.8,256.4 182.8,256.4 183.8,256.8 184.8,257.2 185.8,257.4 186.8,257.3 187.8,256.9 188.8,256.4 189.8,256.1 190.8,256.2 191.8,256.6 192.8,257.0 193.8,257.2 194.8,257.0 195.8,256.6 196.8,256.1 197.8,255.9 198.8,256.0 199.8,256.3 200.8,256.7 201.8,256.9 202.8,256.7 203.8,256.3 204.8,255.8 205.8,255.5 206.8,255.5 207.8,255.9 208.8,256.3 209.8,256.4 210.8,256.3 211.8,255.8 212.8,255.3 213.8,255.0 214.8,255.1 215.8,255.4 216.8,255.8 217.8,256.0 218.8,255.8 219.8,255.4 220.8,254.9 221.8,254.6 222.8,254.6 223.8,255.0 224.8,255.4 225.8,255.2 226.8,254.7 227.8,253.9 228.8,253.0 229.8,252.3 230.8,252.0 231.8,252.0 232.8,252.0 233.8,251.8 234.8,251.3 235.8,250.4 236.8,249.6 237.8,248.9 238.8,248.6 239.8,248.9 240.8,249.4 241.8,249.6 242.8,249.5 243.8,249.1 244.8,248.6 245.8,248.4 246.8,248.5 247.8,248.9 248.8,249.7 249.8,250.4 250.8,250.7 251.8,250.7 252.8,250.7 253.8,250.9 254.8,251.4 255.8,252.2 256.8,253.0 257.8,253.7 258.8,254.0 259.8,254.0 260.8,253.9 261.8,253.7 262.8,253.8 263.8,254.2 264.8,254.7 265.8,254.9 266.8,254.8 267.8,254.4 268.8,253.9 269.8,253.7 270.8,253.8 271.8,254.2 272.8,254.4 273.8,254.4 274.8,254.1 275.8,253.4 276.8,252.7 277.8,252.2 278.8,252.0 279.8,252.2 280.8,252.8 281.8,253.1 282.8,252.6 283.8,251.4 284.8,250.2 285.8,249.6 286.8,249.8 287.8,250.7 288.8,251.6 289.8,252.1 290.8,251.8 291.8,250.8 292.8,249.7 293.8,249.1 294.8,249.3 295.8,250.2 296.8,251.2 297.8,251.7 298.8,251.4 299.8,250.5 300.8,249.4 301.8,248.8 302.8,249.1 303.8,249.9 304.8,251.0 305.8,251.5 306.8,251.2 307.8,250.3 308.8,249.2 309.8,248.6 310.8,248.9 311.8,249.8 312.8,250.9 313.8,251.5 314.8,251.2 315.8,250.3 316.8,249.3 317.8,248.8 318.8,249.0 319.8,250.0 320.8,251.0 321.8,251.6 322.8,251.4 323.8,250.5 324.8,249.5 325.8,248.9 326.8,249.2 327.8,250.1 328.8,251.2 329.8,251.8 330.8,251.5 331.8,250.5 332.8,249.3 333.8,248.7 334.8,248.8 335.8,249.6 336.8,250.6 337.8,251.1 338.8,250.7 339.8,249.7 340.8,248.6 341.8,247.9 342.8,248.1 343.8,248.9 344.8,249.8 345.8,250.8 346.8,251.1 347.8,250.8 348.8,250.3 349.8,250.3 350.8,251.1 351.8,252.6 352.8,254.2 353.8,255.3 354.8,255.6 355.8,255.3 356.8,254.8 357.8,254.4 358.8,254.3 359.8,255.0 360.8,255.7 361.8,256.0 362.8,255.5 363.8,254.3 364.8,253.0 365.8,252.2 366.8,252.1 367.8,253.1 368.8,254.2 369.8,254.9 370.8,254.8 371.8,254.0 372.8,253.1 373.8,252.6 374.8,253.0 375.8,254.0 376.8,255.2 377.8,255.9 378.8,255.7 379.8,254.9 380.8,253.9 381.8,253.5 382.8,253.8 383.8,254.8 384.8,256.0 385.8,256.6 386.8,256.5 387.8,255.6 388.8,254.7 389.8,254.2 390.8,254.6 391.8,255.6 392.8,256.7 393.8,256.9 394.8,256.1 395.8,254.7 396.8,253.1 397.8,252.0 398.8,251.8 399.8,252.2 400.8,252.7 401.8,252.7 402.8,251.9 403.8,250.5 404.8,248.7 405.8,247.8 406.8,247.2 407.8,247.1 408.8,247.5 409.8,247.7 410.8,247.3 411.8,246.5 412.8,245.6 413.8,245.0 414.8,244.9 415.8,245.4 416.8,245.9 417.8,246.1 418.8,245.7 419.8,244.9 420.8,244.0 421.8,243.4 422.8,243.6 423.8,244.3 424.8,245.2 425.8,245.7 426.8,245.6 427.8,245.0 428.8,244.4 429.8,244.1 430.8,244.4 431.8,245.1 432.8,246.0 433.8,246.5 434.8,246.4 435.8,245.8 436.8,245.3 437.8,245.2 438.8,245.6 439.8,246.5 440.8,247.5 441.8,248.2 442.8,248.2 443.8,247.8 444.8,247.3 445.8,247.2 446.8,247.6 447.8,248.5 448.8,249.5 449.8,250.2 450.8,250.3 451.8,249.9 452.8,249.4 453.8,249.2 454.8,249.6 455.8,250.5 456.8,251.5 457.8,252.2 458.8,252.2 459.8,251.8 460.8,251.3 461.8,251.2 462.8,251.6 463.8,252.5 464.8,253.5 465.8,254.1 466.8,254.2 467.8,253.8 468.8,253.3 469.8,253.1 470.8,253.5 471.8,254.4 472.8,255.3 473.8,255.8 474.8,255.7 475.8,255.2 476.8,254.6 477.8,254.3 478.8,254.6 479.8,255.4 480.8,256.3 481.8,256.8 482.8,256.8 483.8,256.2 484.8,255.6 485.8,255.3 486.8,255.6 487.8,256.3 488.8,257.2 489.8,257.7 490.8,257.6 491.8,257.0 492.8,256.4 493.8,256.1 494.8,256.4 495.8,257.1 496.8,258.0 497.8,258.6 498.8,258.6 499.8,258.1 500.8,257.7 501.8,257.6 502.8,257.9 503.8,258.4 504.8,259.0 505.8,259.4 506.8,259.4 507.8,259.2 508.8,258.9 509.8,258.8 510.8,259.1 511.8,259.6 512.8,260.2 513.8,260.6 514.8,260.5 515.8,260.0 516.8,259.6 517.8,259.3 518.8,259.4 519.8,259.7 520.8,260.2 521.8,260.4 522.8,260.2 523.8,259.8 524.8,259.4 525.8,259.1 526.8,259.2 527.8,259.5 528.8,260.0 529.8,260.2 530.8,260.0 531.8,259.6 532.8,259.2 533.8,258.9 534.8,259.0 535.8,259.3 536.8,259.8 537.8,260.0 538.8,259.8 539.8,259.4 540.8,258.9 541.8,258.6 542.8,258.6 543.8,259.0 544.8,259.4 545.8,259.6 546.8,259.4 547.8,259.0 548.8,258.5 549.8,258.2 550.8,258.2 551.8,258.6 552.8,259.0 553.8,259.1 554.8,258.9 555.8,258.3 556.8,257.8 557.8,257.4 558.8,257.4 559.8,257.6 560.8,258.0 561.8,258.1 562.8,257.8 563.8,257.4 564.8,257.0 565.8,256.8 566.8,257.0 567.8,257.4 568.8,257.9 569.8,258.2 570.8,258.1 571.8,257.7 572.8,257.3 573.8,257.1 574.8,257.3 575.8,257.7 576.8,258.2 577.8,258.5 578.8,258.4 579.8,258.0 580.8,257.6 581.8,257.1 582.8,256.8 583.8,256.8 584.8,256.8 585.8,256.6 586.8,256.1 587.8,255.3 588.8,254.4 589.8,253.7 590.8,253.0 591.8,252.7 592.8,252.4 593.8,251.9 594.8,251.0 595.8,250.8 596.8,250.7 597.8,250.8 598.8,251.2 599.8,251.9 600.8,252.7 601.8,253.3 602.8,253.5 603.8,253.4 604.8,253.2 605.8,253.3 606.8,253.6 607.8,254.2 608.8,254.9 609.8,255.4 610.8,255.6 611.8,255.4 612.8,255.2 613.8,255.2 614.8,255.5 615.8,256.0 616.8,256.6 617.8,257.0 618.8,257.0 619.8,256.7 620.8,256.4 621.8,256.3 622.8,256.5 623.8,257.1 624.8,257.6 625.8,258.0 626.8,258.1 627.8,257.8 628.8,257.5 629.8,257.4 630.8,257.7 631.8,258.3 632.8,258.9 633.8,259.3 634.8,259.3 635.8,259.1 636.8,258.8 637.8,258.6 638.8,258.8 639.8,259.3 640.8,259.8 641.8,260.1 642.8,260.0 643.8,259.7 644.8,259.3 645.8,259.1 646.8,259.3 647.8,259.7 648.8,260.2 649.8,260.5 650.8,260.5 651.8,260.0 652.8,259.5 653.8,259.2 654.8,259.2 655.8,259.5 656.8,259.9 657.8,260.1 658.8,259.9 659.8,259.4 660.8,258.9" fill="none" stroke="#8cc656" stroke-width="3.1" stroke-linejoin="round" stroke-linecap="round"/>
</g>
<g clip-path="url(#cb)">
<polyline points="73.3,565.4 78.2,561.4 80.2,561.2 82.3,559.4 84.3,559.4 86.4,558.6 89.1,557.3 91.2,559.4 93.2,559.4 95.2,554.8 97.3,551.8 99.1,548.5 100.9,544.5 102.7,542.3 104.3,544.3 106.0,545.0 108.0,537.5 110.0,530.0 113.6,520.4 117.0,535.0 120.5,546.4 122.5,549.6 124.5,551.8 127.2,543.6 128.8,547.9 130.5,551.8 132.2,550.7 134.0,549.0 135.5,551.2 137.1,553.7 138.6,557.3 140.3,556.3 142.0,554.0 143.6,556.1 145.2,559.9 146.8,561.4 148.4,561.3 150.1,563.3 151.7,564.1 153.3,562.5 154.8,560.4 156.4,560.0 158.2,559.8 160.0,557.3 161.8,557.3 163.4,558.6 165.0,558.0 166.7,554.9 168.3,554.2 170.0,551.8 172.1,548.9 174.1,547.7 176.1,549.2 178.0,549.0 180.0,538.2 182.7,553.2 186.8,534.1 190.4,546.4 194.0,530.0 197.7,549.1 201.8,527.3 205.9,546.4 210.0,524.5 214.0,535.0 217.0,512.0 222.3,538.2 227.7,472.7 230.5,464.5 233.2,497.3 237.3,461.8 239.1,463.2 243.2,500.0 247.3,463.2 251.4,508.2 253.5,491.8 256.5,505.0 259.5,519.1 262.3,501.4 266.0,510.0 270.5,516.4 275.0,495.0 280.0,478.2 283.5,489.1 286.8,467.3 290.4,455.0 292.8,472.7 294.4,438.6 296.3,436.1 301.0,462.0 305.9,421.6 309.6,464.9 313.7,423.1 317.4,459.1 321.2,418.7 324.6,464.9 328.9,414.4 333.3,479.3 336.7,434.6 340.5,473.6 344.2,441.8 346.4,469.2 348.5,450.5 352.0,480.0 355.1,524.0 359.4,480.8 364.6,521.1 367.5,457.7 370.5,490.0 373.8,492.3 376.7,451.9 380.0,490.0 383.0,470.0 386.0,475.0 388.5,500.0 391.1,462.0 395.5,526.9 399.0,505.0 402.7,477.9 405.9,421.7 408.9,450.0 414.3,406.3 417.2,436.6 422.3,408.4 425.2,433.6 429.1,405.4 432.7,433.6 437.1,417.3 441.0,444.0 444.5,430.6 448.4,463.3 452.9,450.0 457.9,469.2 462.2,475.0 466.5,486.5 472.3,501.0 474.2,505.5 476.2,510.3 478.1,513.9 480.0,517.3 481.9,521.5 483.8,524.0 485.6,526.6 487.5,530.7 489.3,532.4 491.1,535.6 492.9,538.9 494.7,540.9 496.5,542.3 498.3,545.7 500.2,548.3 502.1,548.7 504.0,551.4 506.2,555.0 508.4,557.2 510.6,558.4 512.7,558.6 514.2,558.8 515.7,560.5 517.2,562.8 518.7,563.0 520.4,563.0 522.1,564.9 523.9,566.4 525.6,565.9 527.3,567.3 529.0,566.9 530.8,565.2 532.5,562.9 534.3,562.9 536.0,561.5 538.1,559.2 540.3,558.6 542.5,555.5 544.6,551.4 546.5,550.4 548.5,549.0 550.4,547.1 552.2,543.7 554.0,540.0 555.8,538.5 557.6,538.4 559.8,535.0 561.9,529.8 564.0,535.0 566.2,521.1 567.9,541.3 570.0,546.6 572.0,552.0 574.0,554.5 576.0,558.6 577.6,554.7 579.3,548.8 580.9,544.2 582.8,530.4 584.6,515.4 586.4,508.7 588.1,503.8 593.3,521.1 597.3,502.4 601.9,529.8 606.0,538.0 609.0,520.0 612.0,540.0 613.8,547.2 615.5,552.9 618.0,535.0 620.0,545.0 622.0,552.5 624.1,561.5 626.0,557.2 627.8,551.5 629.3,554.7 630.8,559.6 632.3,562.8 634.2,559.3 636.1,557.4 637.9,561.1 639.7,563.4 641.5,562.2 643.2,562.6 645.0,561.0 646.6,561.2 648.3,563.1 650.0,564.6 651.6,564.8 653.4,564.8 655.1,566.5 656.9,566.3" fill="none" stroke="#2158cc" stroke-width="3.1" stroke-linejoin="round" stroke-linecap="round"/>
<polyline points="73.3,558.6 78.2,554.5 80.4,508.2 82.5,500.0 85.0,551.8 89.1,494.5 94.0,558.6 95.9,500.0 100.0,543.6 104.1,464.5 106.3,549.1 110.4,465.9 115.0,456.4 118.5,475.5 123.2,538.2 125.9,527.3 127.7,538.2 130.0,528.0 135.4,475.5 138.6,543.6 142.7,434.5 145.5,510.9 148.2,516.4 151.7,560.0 154.5,508.2 156.5,510.0 158.3,530.0 162.6,437.3 166.5,538.2 170.0,483.6 172.0,485.0 174.6,532.7 177.4,489.1 180.9,535.5 184.5,494.5 186.0,489.1 188.5,520.0 190.4,505.4 192.3,540.9 195.0,491.8 197.7,538.2 201.3,498.6 204.0,540.9 209.5,483.6 212.2,530.0 214.0,522.0 217.6,460.5 220.5,505.0 223.6,482.3 226.4,551.8 229.0,500.0 232.4,482.3 235.9,530.0 238.6,508.2 240.5,476.8 243.2,551.8 248.1,500.0 251.4,561.4 256.3,478.2 260.9,558.6 264.0,505.0 267.2,483.6 269.9,543.6 273.0,500.0 276.5,464.5 280.0,540.9 281.9,475.5 284.5,480.0 288.2,532.7 291.0,495.0 294.3,550.0 297.2,483.6 301.0,529.8 303.0,516.8 306.7,550.0 311.0,515.0 315.4,479.3 318.8,524.0 322.3,475.0 325.2,521.1 327.5,505.0 330.4,541.3 334.7,547.1 337.6,486.5 341.3,547.1 344.0,505.0 347.1,555.8 350.2,476.4 353.0,520.0 356.0,544.2 360.0,486.5 364.6,541.3 368.1,501.0 371.0,515.0 375.3,453.4 379.0,524.0 381.9,466.3 384.0,495.0 386.8,552.9 390.6,492.3 393.5,550.0 396.5,525.0 399.8,547.1 402.4,493.0 405.0,485.0 408.0,500.0 412.5,433.6 416.3,513.8 420.2,451.4 423.8,522.7 427.3,475.2 429.7,549.4 435.6,469.3 439.2,537.6 444.5,467.8 448.1,553.9 452.9,487.1 457.9,558.5 461.3,489.4 466.0,552.9 469.4,475.0 474.6,558.6 477.5,486.5 480.0,500.0 482.4,541.3 485.3,436.1 489.0,477.9 491.1,467.8 493.0,478.0 496.8,544.2 499.7,489.4 502.6,550.0 506.3,495.2 510.5,551.0 512.3,551.4 515.0,530.0 517.2,539.9 523.0,480.8 525.9,515.4 528.7,503.8 532.5,502.4 536.5,486.5 540.3,526.9 544.6,450.5 548.9,486.5 552.7,473.5 556.0,510.0 559.6,476.4 562.5,541.3 565.0,515.4 567.3,557.2 571.3,518.3 576.0,550.0 580.9,535.6 585.8,486.5 588.0,515.0 590.4,472.1 593.3,521.1 596.7,446.1 600.0,500.0 602.5,535.6 604.8,472.1 608.3,552.9 613.0,486.1 615.9,554.4 619.5,471.3 623.4,551.5 627.8,489.1 630.8,545.5 635.2,478.7 639.0,520.0 642.7,512.9 645.0,554.4 648.6,527.7 652.2,557.4 654.6,563.4 656.9,567.8" fill="none" stroke="#cc5526" stroke-width="3.1" stroke-linejoin="round" stroke-linecap="round"/>
<polyline points="73.3,520.9 74.3,521.0 75.3,520.7 76.3,520.3 77.3,519.9 78.3,519.8 79.3,520.1 80.3,520.5 81.3,520.9 82.3,521.0 83.3,520.7 84.3,520.3 85.3,519.9 86.3,519.8 87.3,520.1 88.3,520.5 89.3,520.9 90.3,520.9 91.3,520.4 92.3,519.8 93.3,519.2 94.3,518.9 95.3,519.0 96.3,519.2 97.3,519.4 98.3,519.2 99.3,518.7 100.3,518.1 101.3,517.5 102.3,517.2 103.3,517.2 104.3,517.4 105.3,517.6 106.3,517.4 107.3,516.9 108.3,516.2 109.3,515.6 110.3,515.2 111.3,515.3 112.3,515.5 113.3,515.6 114.3,515.9 115.3,516.2 116.3,516.2 117.3,516.4 118.3,516.8 119.3,517.6 120.3,518.5 121.3,519.1 122.3,519.2 123.3,519.0 124.3,518.6 125.3,518.3 126.3,518.3 127.3,518.6 128.3,519.1 129.3,519.6 130.3,519.7 131.3,519.5 132.3,519.1 133.3,518.8 134.3,518.7 135.3,519.1 136.3,519.6 137.3,520.0 138.3,520.1 139.3,519.9 140.3,519.5 141.3,519.2 142.3,519.2 143.3,519.5 144.3,520.0 145.3,520.4 146.3,520.5 147.3,520.3 148.3,519.9 149.3,519.6 150.3,519.6 151.3,519.9 152.3,520.4 153.3,520.8 154.3,520.9 155.3,520.7 156.3,520.1 157.3,519.6 158.3,519.5 159.3,519.6 160.3,520.0 161.3,520.2 162.3,520.2 163.3,519.8 164.3,519.3 165.3,518.8 166.3,518.6 167.3,518.8 168.3,519.1 169.3,519.4 170.3,519.3 171.3,519.0 172.3,518.4 173.3,517.9 174.3,517.7 175.3,517.9 176.3,518.2 177.3,518.5 178.3,518.5 179.3,518.1 180.3,517.6 181.3,517.4 182.3,517.4 183.3,517.8 184.3,518.4 185.3,518.9 186.3,519.1 187.3,519.0 188.3,518.6 189.3,518.4 190.3,518.3 191.3,518.2 192.3,518.4 193.3,518.4 194.3,518.1 195.3,517.5 196.3,516.7 197.3,516.0 198.3,515.6 199.3,515.5 200.3,515.6 201.3,515.7 202.3,515.6 203.3,515.3 204.3,514.9 205.3,514.5 206.3,514.4 207.3,514.7 208.3,515.1 209.3,515.5 210.3,515.6 211.3,515.3 212.3,514.9 213.3,514.5 214.3,514.4 215.3,514.6 216.3,514.7 217.3,514.8 218.3,514.5 219.3,514.0 220.3,513.2 221.3,512.5 222.3,512.1 223.3,512.1 224.3,511.9 225.3,511.5 226.3,510.9 227.3,509.9 228.3,508.7 229.3,507.8 230.3,508.2 231.3,509.0 232.3,509.9 233.3,510.8 234.3,511.4 235.3,510.6 236.3,509.4 237.3,508.3 238.3,507.5 239.3,507.0 240.3,507.1 241.3,508.0 242.3,508.9 243.3,509.9 244.3,510.8 245.3,511.7 246.3,512.2 247.3,511.8 248.3,511.5 249.3,511.1 250.3,510.7 251.3,510.7 252.3,511.2 253.3,511.7 254.3,512.3 255.3,512.8 256.3,513.3 257.3,513.6 258.3,513.5 259.3,513.5 260.3,513.4 261.3,513.4 262.3,513.3 263.3,513.3 264.3,513.2 265.3,513.1 266.3,513.1 267.3,513.0 268.3,512.9 269.3,512.6 270.3,512.2 271.3,511.9 272.3,511.6 273.3,511.2 274.3,510.9 275.3,510.6 276.3,510.3 277.3,509.9 278.3,509.6 279.3,509.3 280.3,509.1 281.3,508.8 282.3,508.6 283.3,508.3 284.3,508.1 285.3,507.8 286.3,507.6 287.3,507.3 288.3,507.1 289.3,506.8 290.3,506.5 291.3,506.0 292.3,505.6 293.3,505.2 294.3,504.7 295.3,504.3 296.3,504.2 297.3,505.0 298.3,505.8 299.3,506.6 300.3,507.4 301.3,507.7 302.3,506.6 303.3,505.4 304.3,504.3 305.3,503.2 306.3,502.1 307.3,501.0 308.3,501.8 309.3,502.6 310.3,503.4 311.3,504.2 312.3,504.9 313.3,505.3 314.3,504.5 315.3,503.8 316.3,503.0 317.3,502.3 318.3,501.5 319.3,501.3 320.3,502.4 321.3,503.5 322.3,504.6 323.3,505.7 324.3,506.3 325.3,505.5 326.3,504.8 327.3,504.0 328.3,503.3 329.3,502.5 330.3,502.3 331.3,503.3 332.3,504.3 333.3,505.3 334.3,506.3 335.3,507.3 336.3,508.1 337.3,507.4 338.3,506.7 339.3,506.0 340.3,505.2 341.3,504.5 342.3,504.2 343.3,504.8 344.3,505.4 345.3,506.0 346.3,506.6 347.3,507.2 348.3,507.9 349.3,508.5 350.3,509.2 351.3,509.9 352.3,510.5 353.3,510.8 354.3,510.2 355.3,509.6 356.3,509.0 357.3,508.4 358.3,507.7 359.3,507.1 360.3,507.0 361.3,508.2 362.3,509.4 363.3,510.5 364.3,511.7 365.3,512.3 366.3,511.5 367.3,510.8 368.3,510.0 369.3,509.3 370.3,508.5 371.3,508.2 372.3,509.0 373.3,509.7 374.3,510.5 375.3,511.2 376.3,512.0 377.3,512.3 378.3,511.6 379.3,510.9 380.3,510.2 381.3,509.5 382.3,509.2 383.3,510.1 384.3,510.9 385.3,511.8 386.3,512.6 387.3,513.4 388.3,514.1 389.3,514.3 390.3,514.5 391.3,514.7 392.3,514.9 393.3,515.1 394.3,515.3 395.3,515.1 396.3,514.2 397.3,513.3 398.3,512.4 399.3,511.5 400.3,510.8 401.3,510.1 402.3,507.9 403.3,505.1 404.3,502.2 405.3,500.7 406.3,500.1 407.3,500.1 408.3,500.2 409.3,500.3 410.3,499.9 411.3,499.3 412.3,498.4 413.3,497.6 414.3,497.3 415.3,497.5 416.3,498.0 417.3,498.4 418.3,498.5 419.3,498.3 420.3,497.9 421.3,497.6 422.3,497.7 423.3,498.4 424.3,499.3 425.3,500.1 426.3,500.4 427.3,500.3 428.3,499.8 429.3,499.5 430.3,499.6 431.3,500.3 432.3,501.1 433.3,501.9 434.3,502.2 435.3,502.0 436.3,501.5 437.3,501.2 438.3,501.3 439.3,501.9 440.3,502.8 441.3,503.5 442.3,503.8 443.3,503.6 444.3,503.1 445.3,502.8 446.3,502.9 447.3,503.5 448.3,504.4 449.3,505.1 450.3,505.4 451.3,505.2 452.3,504.8 453.3,504.4 454.3,504.5 455.3,505.1 456.3,506.0 457.3,506.7 458.3,507.1 459.3,506.9 460.3,506.6 461.3,506.5 462.3,506.9 463.3,507.7 464.3,508.9 465.3,509.9 466.3,510.4 467.3,510.5 468.3,510.3 469.3,510.2 470.3,510.3 471.3,510.9 472.3,511.8 473.3,512.6 474.3,512.9 475.3,512.7 476.3,512.2 477.3,511.8 478.3,511.9 479.3,512.5 480.3,513.4 481.3,514.2 482.3,514.5 483.3,514.3 484.3,513.8 485.3,513.4 486.3,513.5 487.3,514.1 488.3,515.0 489.3,515.8 490.3,516.1 491.3,515.9 492.3,515.4 493.3,515.0 494.3,515.1 495.3,515.7 496.3,516.6 497.3,517.4 498.3,517.7 499.3,517.5 500.3,517.1 501.3,516.9 502.3,517.0 503.3,517.5 504.3,518.1 505.3,518.7 506.3,519.0 507.3,518.9 508.3,518.7 509.3,518.5 510.3,518.6 511.3,519.1 512.3,519.8 513.3,520.3 514.3,520.4 515.3,520.3 516.3,519.9 517.3,519.6 518.3,519.7 519.3,520.0 520.3,520.6 521.3,521.0 522.3,521.2 523.3,521.0 524.3,520.7 525.3,520.4 526.3,520.4 527.3,520.8 528.3,521.1 529.3,521.4 530.3,521.3 531.3,520.9 532.3,520.3 533.3,519.8 534.3,519.6 535.3,519.7 536.3,520.1 537.3,520.3 538.3,520.3 539.3,519.9 540.3,519.3 541.3,518.8 542.3,518.6 543.3,518.7 544.3,519.0 545.3,519.2 546.3,519.1 547.3,518.6 548.3,517.9 549.3,517.2 550.3,516.9 551.3,517.0 552.3,517.2 553.3,517.3 554.3,517.1 555.3,516.6 556.3,515.9 557.3,515.3 558.3,515.0 559.3,515.1 560.3,515.5 561.3,515.9 562.3,516.0 563.3,515.7 564.3,515.3 565.3,515.0 566.3,515.5 567.3,516.3 568.3,517.3 569.3,518.2 570.3,518.8 571.3,519.1 572.3,519.2 573.3,519.0 574.3,518.3 575.3,517.9 576.3,517.7 577.3,517.4 578.3,516.9 579.3,516.0 580.3,514.9 581.3,513.8 582.3,513.2 583.3,513.2 584.3,513.3 585.3,513.3 586.3,513.1 587.3,512.5 588.3,511.7 589.3,511.0 590.3,510.6 591.3,510.8 592.3,511.6 593.3,512.4 594.3,512.8 595.3,512.9 596.3,512.8 597.3,512.9 598.3,513.2 599.3,513.8 600.3,514.7 601.3,515.5 602.3,516.0 603.3,516.2 604.3,516.1 605.3,516.2 606.3,516.6 607.3,517.3 608.3,518.1 609.3,518.8 610.3,519.0 611.3,518.8 612.3,518.4 613.3,518.2 614.3,518.2 615.3,518.5 616.3,519.1 617.3,519.5 618.3,519.7 619.3,519.5 620.3,519.1 621.3,518.9 622.3,518.9 623.3,519.2 624.3,519.8 625.3,520.2 626.3,520.3 627.3,520.1 628.3,519.7 629.3,519.4 630.3,519.3 631.3,519.6 632.3,520.1 633.3,520.5 634.3,520.7 635.3,520.4 636.3,520.0 637.3,519.7 638.3,519.6 639.3,520.0 640.3,520.4 641.3,520.8 642.3,520.9 643.3,520.6 644.3,520.2 645.3,519.8 646.3,519.7 647.3,520.0 648.3,520.4 649.3,520.8 650.3,520.9 651.3,520.6 652.3,520.2 653.3,519.8 654.3,519.7 655.3,520.0 656.3,520.4" fill="none" stroke="#8cc656" stroke-width="3.1" stroke-linejoin="round" stroke-linecap="round"/>
</g>
<!-- blue bars -->
<rect x="203.5" y="567.8" width="52" height="5.4" fill="#1c1ce0"/>
<rect x="350" y="567.6" width="20" height="5" fill="#2020d8"/>
<rect x="368" y="568.6" width="25" height="5" fill="#1c1ce0"/>
<rect x="587" y="569" width="68" height="5" rx="2" fill="#1c1ce0"/>
<!-- labels -->
<g font-weight="bold" fill="#111">
<text x="8.3" y="20.8" font-size="19.5">A</text><path d="M25.9 10.2 L25.9 20.6 L23.2 20.6 L23.2 13.9 Q22.2 14.8 20.8 15.3 L20.8 13 Q22.8 12 23.5 10.2 Z"/>
<text x="369.9" y="20.2" font-size="18.3" font-weight="normal" stroke="#111" stroke-width="0.55">B</text><path d="M387.1 10.9 L387.1 21.1 L385.1 21.1 L385.1 14 Q384.2 14.9 382.7 15.4 L382.7 13.6 Q384.4 12.6 385.4 10.9 Z"/>
<text x="5" y="121.4" font-size="19.5">A</text><text x="18.8" y="121.4" font-size="15">2</text>
<text x="7.6" y="358.6" font-size="19.5">B</text><text x="20.6" y="358.6" font-size="15">2</text>
<text x="144.6" y="124.7" font-size="19.6" textLength="57.5" lengthAdjust="spacingAndGlyphs">T1030</text>
<text x="131.8" y="367.7" font-size="19.6" textLength="126.5" lengthAdjust="spacingAndGlyphs">T1030TS427-1</text>
</g>
<g font-weight="bold" fill="#111" font-size="10.8" lengthAdjust="spacingAndGlyphs">
<text x="33" y="150.6" textLength="29" lengthAdjust="spacingAndGlyphs">0,012</text>
<text x="33" y="202.2" textLength="29" lengthAdjust="spacingAndGlyphs">0,008</text>
<text x="33" y="254.2" textLength="29" lengthAdjust="spacingAndGlyphs">0,004</text>
<text x="55.6" y="305.5" textLength="7" lengthAdjust="spacingAndGlyphs">0</text>
<text x="32.3" y="392" textLength="28.8" lengthAdjust="spacingAndGlyphs">0,012</text>
<text x="32.3" y="452.4" textLength="28.8" lengthAdjust="spacingAndGlyphs">0,008</text>
<text x="32.3" y="513.1" textLength="29.8" lengthAdjust="spacingAndGlyphs">0,004</text>
<text x="55" y="573.8" textLength="6" lengthAdjust="spacingAndGlyphs">0</text>
</g>
<g fill="#111" font-size="14.2">
<text x="577.8" y="318.4" textLength="71" lengthAdjust="spacingAndGlyphs">RESIDUES</text>
<text x="583.6" y="590.6" textLength="71.5" lengthAdjust="spacingAndGlyphs">RESIDUES</text>
</g>
<!-- legends -->
<line x1="308" y1="118.5" x2="334" y2="118.5" stroke="#2158cc" stroke-width="2.4"/>
<line x1="369.5" y1="118.5" x2="395.5" y2="118.5" stroke="#cc5526" stroke-width="2.4"/>
<line x1="434" y1="118.2" x2="459.5" y2="118.2" stroke="#8cc656" stroke-width="2.4"/>
<g font-size="10.5" fill="#111" font-weight="bold">
<text x="334.5" y="122.9">T</text>
<text x="397.5" y="122.6">O</text>
<text x="462" y="122.8">K=1.7</text>
<text x="367" y="374">T</text>
<text x="425" y="374.4">O</text>
<text x="483.5" y="374.3">K=1.3</text>
</g>
<line x1="339.5" y1="369.6" x2="366" y2="369.6" stroke="#2158cc" stroke-width="2.6"/>
<line x1="397" y1="369.5" x2="423" y2="369.5" stroke="#d84a2a" stroke-width="2.8"/>
<line x1="456.5" y1="369.7" x2="481.5" y2="369.7" stroke="#8cc656" stroke-width="2.4"/>
<!-- frame -->
<rect x="0" y="0" width="685" height="1" fill="#bbbbbb"/>
<rect x="0" y="1" width="685" height="1.2" fill="#3c3c3c"/>
<rect x="1" y="1" width="1.5" height="605" fill="#444"/>
<rect x="683.3" y="1" width="1.7" height="605" fill="#2a2a2a"/>
<rect x="0" y="603.8" width="685" height="2.2" fill="#6a6a6a"/>
<rect x="1" y="97" width="683" height="1.6" fill="#3a3a3a"/>
<rect x="361.7" y="1" width="1.3" height="97" fill="#333"/>
<rect x="1" y="333.9" width="683" height="1.8" fill="#555"/>
</g>
<defs><clipPath id="ca"><rect x="72.5" y="130" width="600" height="176"/></clipPath><clipPath id="cb"><rect x="73.5" y="380" width="600" height="200"/></clipPath></defs>
</svg>
</body></html>
